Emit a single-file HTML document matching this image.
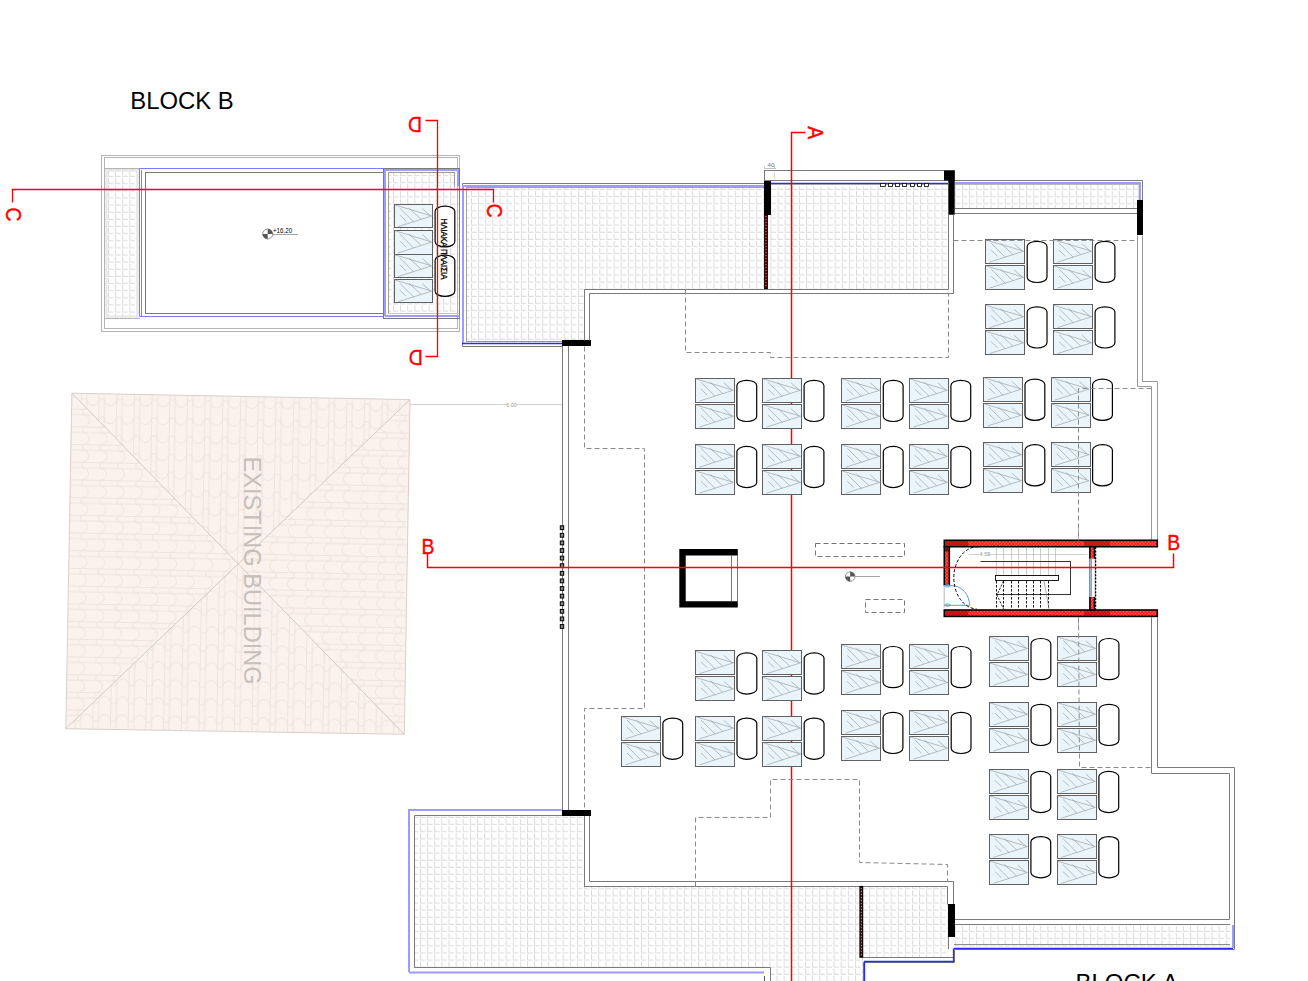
<!DOCTYPE html>
<html><head><meta charset="utf-8"><style>
html,body{margin:0;padding:0;background:#fff;}
svg{display:block;}
text{font-family:"Liberation Sans",sans-serif;}
</style></head><body>
<svg width="1308" height="981" viewBox="0 0 1308 981">
<defs>
<pattern id="tile" patternUnits="userSpaceOnUse" width="7.13" height="7.13" x="471" y="190">
<rect x="0" y="1" width="1" height="5" fill="#d8d8d8"/><rect x="0" y="6" width="5.5" height="1" fill="#d8d8d8"/>
</pattern>
<pattern id="tileB1" patternUnits="userSpaceOnUse" width="7.13" height="7.13" x="108" y="170">
<rect x="0" y="1" width="1" height="5" fill="#d8d8d8"/><rect x="0" y="6" width="5.5" height="1" fill="#d8d8d8"/>
</pattern>
<pattern id="tileB2" patternUnits="userSpaceOnUse" width="7.13" height="7.13" x="393" y="169">
<rect x="0" y="1" width="1" height="5" fill="#d8d8d8"/><rect x="0" y="6" width="5.5" height="1" fill="#d8d8d8"/>
</pattern>
<pattern id="tileS" patternUnits="userSpaceOnUse" width="7.13" height="7.13" x="962" y="183">
<rect x="0" y="1" width="1" height="5" fill="#d8d8d8"/><rect x="0" y="6" width="5.5" height="1" fill="#d8d8d8"/>
</pattern>
<pattern id="tileL" patternUnits="userSpaceOnUse" width="7.13" height="7.13" x="420" y="818">
<rect x="0" y="1" width="1" height="5" fill="#d8d8d8"/><rect x="0" y="6" width="5.5" height="1" fill="#d8d8d8"/>
</pattern>
<pattern id="roofV" patternUnits="userSpaceOnUse" width="17.7" height="18" patternTransform="rotate(1.1)">
<path d="M0.5,0 V18 M6,0 V18 M0.5,1 H6 M6,2 A5.85,5.5 0 0 0 17.7,2" stroke="#e8ddd6" stroke-width="0.7" fill="none"/>
</pattern>
<pattern id="roofVu" patternUnits="userSpaceOnUse" width="17.7" height="18" patternTransform="rotate(1.1)">
<path d="M0.5,0 V18 M6,0 V18 M0.5,17 H6 M6,16 A5.85,5.5 0 0 1 17.7,16" stroke="#e8ddd6" stroke-width="0.7" fill="none"/>
</pattern>
<pattern id="roofH" patternUnits="userSpaceOnUse" width="18" height="17.7" patternTransform="rotate(1.1)">
<path d="M0,0.5 H18 M0,6 H18 M1,0.5 V6 M2,6 A5.5,5.85 0 0 1 2,17.7" stroke="#e8ddd6" stroke-width="0.7" fill="none"/>
</pattern>
<pattern id="roofHl" patternUnits="userSpaceOnUse" width="18" height="17.7" patternTransform="rotate(1.1)">
<path d="M0,0.5 H18 M0,6 H18 M17,0.5 V6 M16,6 A5.5,5.85 0 0 0 16,17.7" stroke="#e8ddd6" stroke-width="0.7" fill="none"/>
</pattern>
<pattern id="hatch" patternUnits="userSpaceOnUse" width="2.4" height="2.4" patternTransform="rotate(45)">
<rect width="2.4" height="2.4" fill="#ff1a1a"/>
<rect x="0.2" y="0.2" width="0.9" height="0.9" fill="#ffd0d0"/>
</pattern>
</defs>
<rect x="105" y="169" width="34" height="149" stroke="none" stroke-width="1" fill="url(#tileB1)" />
<rect x="389" y="173" width="70" height="140" stroke="none" stroke-width="1" fill="url(#tileB2)" />
<path d="M466.5,186.5 H948 V289.5 H584 V343 H466.5 Z" fill="url(#tile)"/>
<rect x="955" y="185" width="183" height="23" stroke="none" stroke-width="1" fill="url(#tileS)" />
<path d="M414,816 H584 V886.5 H948 V957 H863 V981 H771 V968 H414 Z" fill="url(#tileL)"/>
<rect x="954" y="925" width="276" height="22" stroke="none" stroke-width="1" fill="url(#tileL)" />
<polygon points="71.9,393.2 410,399.6 404.3,734.3 65.8,728.7" fill="#fbf2ed" stroke="#d9cfc9" stroke-width="1"/>
<polygon points="71.9,393.2 410,399.6 238.21,563.86" fill="url(#roofV)"/>
<polygon points="65.8,728.7 404.3,734.3 238.21,563.86" fill="url(#roofVu)"/>
<polygon points="71.9,393.2 65.8,728.7 238.21,563.86" fill="url(#roofH)"/>
<polygon points="410,399.6 404.3,734.3 238.21,563.86" fill="url(#roofHl)"/>
<line x1="71.9" y1="393.2" x2="404.3" y2="734.3" stroke="#c9c0ba" stroke-width="0.8" />
<line x1="410" y1="399.6" x2="65.8" y2="728.7" stroke="#c9c0ba" stroke-width="0.8" />
<text x="0" y="0" transform="translate(244.3,456.6) rotate(90)" font-size="24" fill="#c6bfba" textLength="228" lengthAdjust="spacingAndGlyphs">EXISTING BUILDING</text>
<line x1="410" y1="404.5" x2="563" y2="404.5" stroke="#c8c8c8" stroke-width="0.8" />
<rect x="506" y="401" width="11" height="6" stroke="none" stroke-width="1" fill="#fff" />
<text x="511.5" y="406.5" font-size="5.5" fill="#999" text-anchor="middle">6.00</text>
<rect x="101.5" y="155.5" width="358.0" height="176.0" stroke="#b4b4b4" stroke-width="1" fill="none" />
<rect x="104.5" y="157.5" width="353.0" height="171.0" stroke="#b4b4b4" stroke-width="1" fill="none" />
<line x1="104" y1="168.5" x2="140" y2="168.5" stroke="#b4b4b4" stroke-width="1" />
<line x1="104" y1="318.5" x2="140" y2="318.5" stroke="#b4b4b4" stroke-width="1" />
<rect x="106.5" y="170.5" width="31" height="146" stroke="#e6e6e6" stroke-width="2" fill="none" />
<polyline points="383.5,168.5 139.5,168.5 139.5,316.5 383.5,316.5" stroke="#7b7bff" stroke-width="1" fill="none" />
<line x1="141.5" y1="170" x2="141.5" y2="316" stroke="#7b7bff" stroke-width="1" />
<rect x="145.5" y="172.5" width="238.0" height="141.0" stroke="#7a7a7a" stroke-width="1" fill="none" />
<rect x="383.5" y="168.5" width="76.0" height="150.0" stroke="#7a7a7a" stroke-width="1" fill="none" />
<polyline points="385,316 385,170 458,170 458,186.3" stroke="#9c9cff" stroke-width="2" fill="none" />
<line x1="385" y1="316" x2="459.5" y2="316" stroke="#9c9cff" stroke-width="2" />
<polyline points="454.5,187.5 454.5,172.5 388.5,172.5 388.5,313.5 459.5,313.5" stroke="#909090" stroke-width="0.9" fill="none" />
<line x1="388" y1="313.5" x2="459" y2="313.5" stroke="#c4c4c4" stroke-width="1" />
<polyline points="764.5,183.5 462.5,183.5 462.5,346.5 562.5,346.5" stroke="#7a7a7a" stroke-width="1" fill="none" />
<polyline points="764,186 463,186 463,342.5" stroke="#9c9cff" stroke-width="2" fill="none" />
<line x1="462" y1="343.5" x2="562" y2="343.5" stroke="#2828ff" stroke-width="1.3" />
<line x1="467" y1="341.5" x2="562" y2="341.5" stroke="#8a8a8a" stroke-width="0.9" />
<polyline points="764.5,187.5 466.5,187.5 466.5,343.5" stroke="#8a8a8a" stroke-width="0.8" fill="none" />
<rect x="764.5" y="170.5" width="190.0" height="10.0" stroke="#7a7a7a" stroke-width="1" fill="none" />
<line x1="770" y1="183.5" x2="948" y2="183.5" stroke="#2828ff" stroke-width="1.3" />
<line x1="770" y1="184.5" x2="948" y2="184.5" stroke="#888" stroke-width="0.6" />
<polyline points="954.5,180.5 1142.5,180.5 1142.5,200.5" stroke="#7a7a7a" stroke-width="1" fill="none" />
<polyline points="954.7,183 1140,183 1140,200" stroke="#9c9cff" stroke-width="2" fill="none" />
<line x1="955" y1="184.5" x2="1139" y2="184.5" stroke="#8a8a8a" stroke-width="0.6" />
<line x1="1138.5" y1="185" x2="1138.5" y2="208" stroke="#cfcfcf" stroke-width="0.8" />
<line x1="955" y1="208.5" x2="1137" y2="208.5" stroke="#7a7a7a" stroke-width="1" />
<line x1="955" y1="213.5" x2="1137" y2="213.5" stroke="#7a7a7a" stroke-width="1" />
<rect x="764" y="181" width="7" height="34" stroke="none" stroke-width="1" fill="#000" />
<rect x="764.8" y="214.8" width="2.4" height="74.2" fill="#d00000" stroke="#000" stroke-width="1.4"/>
<line x1="766" y1="216" x2="766" y2="288" stroke="#fff" stroke-width="0.7" stroke-dasharray="0.8,2.2"/>
<path d="M944,170.5 H954.7 V214.8 H948.3 V180.6 H944 Z" fill="#000"/>
<rect x="1137" y="200" width="6" height="35" stroke="none" stroke-width="1" fill="#000" />
<rect x="562" y="340" width="29" height="6" stroke="none" stroke-width="1" fill="#000" />
<rect x="880.5" y="183.5" width="5.0" height="3.0" stroke="#000" stroke-width="0.8" fill="#fff" />
<rect x="888.5" y="183.5" width="4.0" height="3.0" stroke="#000" stroke-width="0.8" fill="#fff" />
<rect x="895.5" y="183.5" width="4.0" height="3.0" stroke="#000" stroke-width="0.8" fill="#fff" />
<rect x="902.5" y="183.5" width="4.0" height="3.0" stroke="#000" stroke-width="0.8" fill="#fff" />
<rect x="910.5" y="183.5" width="4.0" height="3.0" stroke="#000" stroke-width="0.8" fill="#fff" />
<rect x="917.5" y="183.5" width="4.0" height="3.0" stroke="#000" stroke-width="0.8" fill="#fff" />
<rect x="924.5" y="183.5" width="4.0" height="3.0" stroke="#000" stroke-width="0.8" fill="#fff" />
<line x1="562.5" y1="346" x2="562.5" y2="810" stroke="#7a7a7a" stroke-width="1" />
<line x1="568.5" y1="346" x2="568.5" y2="810" stroke="#7a7a7a" stroke-width="1" />
<polyline points="584.5,340.5 584.5,289.5 948.5,289.5 948.5,214.5" stroke="#7a7a7a" stroke-width="1" fill="none" />
<polyline points="589.5,340.5 589.5,293.5 953.5,293.5 953.5,214.5" stroke="#7a7a7a" stroke-width="1" fill="none" />
<line x1="584.5" y1="816" x2="584.5" y2="887" stroke="#7a7a7a" stroke-width="1" />
<line x1="589.5" y1="816" x2="589.5" y2="881" stroke="#7a7a7a" stroke-width="1" />
<polyline points="1137.5,235.5 1137.5,386.5 1151.5,386.5 1151.5,540.5" stroke="#999" stroke-width="1" fill="none" />
<polyline points="1142.5,235.5 1142.5,381.5 1157.5,381.5 1157.5,540.5" stroke="#999" stroke-width="1" fill="none" />
<polyline points="1151.5,617.5 1151.5,773.5 1229.5,773.5 1229.5,919.5 954.5,919.5" stroke="#7a7a7a" stroke-width="1" fill="none" />
<polyline points="1157.5,617.5 1157.5,767.5 1234.5,767.5 1234.5,949.5 954.5,949.5 954.5,962.5 863.5,962.5 863.5,981.5" stroke="#7a7a7a" stroke-width="1" fill="none" />
<line x1="954" y1="924.5" x2="1230" y2="924.5" stroke="#7a7a7a" stroke-width="1" />
<line x1="954" y1="948.5" x2="1233" y2="948.5" stroke="#2828ff" stroke-width="1.3" />
<line x1="1233" y1="925" x2="1233" y2="948" stroke="#9c9cff" stroke-width="2" />
<line x1="954" y1="944.5" x2="1230" y2="944.5" stroke="#808080" stroke-width="0.9" />
<polyline points="864.5,981.5 864.5,961.5 953.5,961.5 953.5,948.5" stroke="#2828ff" stroke-width="1.3" fill="none" />
<polyline points="589.5,881.5 953.5,881.5 953.5,904.5" stroke="#7a7a7a" stroke-width="1" fill="none" />
<polyline points="584.5,886.5 947.5,886.5 947.5,904.5" stroke="#7a7a7a" stroke-width="1" fill="none" />
<rect x="948" y="904" width="7" height="33" stroke="none" stroke-width="1" fill="#000" />
<line x1="948.5" y1="937" x2="948.5" y2="949" stroke="#7a7a7a" stroke-width="1" />
<rect x="860.1" y="886.6" width="2.4" height="70.5" fill="#d00000" stroke="#000" stroke-width="1.4"/>
<line x1="861.3" y1="888" x2="861.3" y2="956" stroke="#fff" stroke-width="0.7" stroke-dasharray="0.8,2.2"/>
<line x1="863" y1="957.5" x2="953" y2="957.5" stroke="#7a7a7a" stroke-width="1" />
<polyline points="561.7,810 409,810 409,972" stroke="#9c9cff" stroke-width="2" fill="none" />
<line x1="409" y1="972.5" x2="764" y2="972.5" stroke="#9c9cff" stroke-width="2" />
<line x1="764.5" y1="976" x2="764.5" y2="981" stroke="#555" stroke-width="1" />
<polyline points="562.5,815.5 414.5,815.5 414.5,967.5 770.5,967.5 770.5,981.5" stroke="#7a7a7a" stroke-width="1" fill="none" />
<rect x="562" y="810" width="29" height="6" stroke="none" stroke-width="1" fill="#000" />
<rect x="560.3" y="525.80" width="3.4" height="3.8" stroke="#000" stroke-width="1" fill="#888"/>
<rect x="560.3" y="533.40" width="3.4" height="3.8" stroke="#000" stroke-width="1" fill="#888"/>
<rect x="560.3" y="541.00" width="3.4" height="3.8" stroke="#000" stroke-width="1" fill="#888"/>
<rect x="560.3" y="548.60" width="3.4" height="3.8" stroke="#000" stroke-width="1" fill="#888"/>
<rect x="560.3" y="556.20" width="3.4" height="3.8" stroke="#000" stroke-width="1" fill="#888"/>
<rect x="560.3" y="563.80" width="3.4" height="3.8" stroke="#000" stroke-width="1" fill="#888"/>
<rect x="560.3" y="571.40" width="3.4" height="3.8" stroke="#000" stroke-width="1" fill="#888"/>
<rect x="560.3" y="579.00" width="3.4" height="3.8" stroke="#000" stroke-width="1" fill="#888"/>
<rect x="560.3" y="586.60" width="3.4" height="3.8" stroke="#000" stroke-width="1" fill="#888"/>
<rect x="560.3" y="594.20" width="3.4" height="3.8" stroke="#000" stroke-width="1" fill="#888"/>
<rect x="560.3" y="601.80" width="3.4" height="3.8" stroke="#000" stroke-width="1" fill="#888"/>
<rect x="560.3" y="609.40" width="3.4" height="3.8" stroke="#000" stroke-width="1" fill="#888"/>
<rect x="560.3" y="617.00" width="3.4" height="3.8" stroke="#000" stroke-width="1" fill="#888"/>
<rect x="560.3" y="624.60" width="3.4" height="3.8" stroke="#000" stroke-width="1" fill="#888"/>
<path d="M679.3,549 H737.8 V555.4 H685.7 V601.2 H737.8 V607.6 H679.3 Z" fill="#000"/>
<line x1="731.5" y1="555" x2="731.5" y2="601" stroke="#555" stroke-width="0.8" />
<line x1="737.5" y1="555" x2="737.5" y2="601" stroke="#555" stroke-width="0.8" />
<circle cx="850.2" cy="576.6" r="4.8" fill="#fff" stroke="#666" stroke-width="0.7"/>
<path d="M850.2,576.6 V571.8000000000001 A4.8,4.8 0 0 1 855.0,576.6 Z" fill="#555"/>
<path d="M850.2,576.6 H845.4000000000001 A4.8,4.8 0 0 0 850.2,581.4 Z" fill="#555"/>
<line x1="855" y1="576.5" x2="880" y2="576.5" stroke="#9a9a9a" stroke-width="0.9" />
<circle cx="267.7" cy="234" r="5" fill="#fff" stroke="#666" stroke-width="0.7"/>
<path d="M267.7,234 V229 A5,5 0 0 1 272.7,234 Z" fill="#555"/>
<path d="M267.7,234 H262.7 A5,5 0 0 0 267.7,239 Z" fill="#555"/>
<line x1="273" y1="234.5" x2="298" y2="234.5" stroke="#9a9a9a" stroke-width="0.9" />
<text x="0" y="0" transform="translate(273.0,232.9) scale(0.85,1)" font-size="7.3" fill="#000">+16.20</text>
<rect x="944.3" y="540.3" width="213" height="6.4" stroke="#000" stroke-width="1.6" fill="url(#hatch)"/>
<rect x="944.3" y="610" width="213" height="6.4" stroke="#000" stroke-width="1.6" fill="url(#hatch)"/>
<rect x="944.3" y="546.7" width="5" height="38.7" stroke="#000" stroke-width="1.6" fill="url(#hatch)"/>
<rect x="1089.9" y="546.7" width="4.6" height="63.3" stroke="#000" stroke-width="1.6" fill="url(#hatch)"/>
<rect x="945.1" y="541.1" width="23" height="4.8" fill="#900000" opacity="0.55"/>
<rect x="945.1" y="610.8" width="23" height="4.8" fill="#900000" opacity="0.55"/>
<rect x="1084" y="541.1" width="26" height="4.8" fill="#900000" opacity="0.5"/>
<rect x="1084" y="610.8" width="26" height="4.8" fill="#900000" opacity="0.5"/>
<rect x="945.1" y="547.5" width="3.4" height="4" fill="#000" opacity="0.6"/>
<rect x="1089.5" y="558.7" width="5.4" height="38.2" fill="#fff"/>
<line x1="1091.2" y1="559" x2="1091.2" y2="596.5" stroke="#6aa8e8" stroke-width="1.6" />
<line x1="1089.9" y1="558.7" x2="1089.9" y2="597" stroke="#888" stroke-width="0.6" />
<line x1="1095.6" y1="547" x2="1095.6" y2="609.5" stroke="#000" stroke-width="1.3" stroke-dasharray="2,1.4"/>
<rect x="943.3" y="585.3" width="7" height="22" fill="#fff"/>
<line x1="944.2" y1="585.4" x2="944.2" y2="607.4" stroke="#999" stroke-width="0.7" />
<path d="M944.5,585.6 H952 A18,20 0 0 1 969.6,605.3 H944.5" fill="none" stroke="#5a9de0" stroke-width="1"/>
<ellipse cx="947.5" cy="585.8" rx="2.6" ry="1.2" fill="none" stroke="#5a9de0" stroke-width="0.9"/>
<ellipse cx="947.5" cy="605.1" rx="2.6" ry="1.2" fill="none" stroke="#5a9de0" stroke-width="0.9"/>
<path d="M978.3,546.8 A23.6,31 0 0 0 976.7,609" fill="none" stroke="#000" stroke-width="1" stroke-dasharray="3,2"/>
<line x1="996.5" y1="547" x2="996.5" y2="576" stroke="#aaa" stroke-width="0.6" />
<line x1="1003.5" y1="547" x2="1003.5" y2="576" stroke="#aaa" stroke-width="0.6" />
<line x1="1011.5" y1="547" x2="1011.5" y2="576" stroke="#aaa" stroke-width="0.6" />
<line x1="1018.5" y1="547" x2="1018.5" y2="576" stroke="#aaa" stroke-width="0.6" />
<line x1="1026.5" y1="547" x2="1026.5" y2="576" stroke="#aaa" stroke-width="0.6" />
<line x1="1033.5" y1="547" x2="1033.5" y2="576" stroke="#aaa" stroke-width="0.6" />
<line x1="1040.5" y1="547" x2="1040.5" y2="576" stroke="#aaa" stroke-width="0.6" />
<line x1="1048.5" y1="547" x2="1048.5" y2="576" stroke="#aaa" stroke-width="0.6" />
<line x1="1055.5" y1="547" x2="1055.5" y2="576" stroke="#aaa" stroke-width="0.6" />
<line x1="996.5" y1="581" x2="996.5" y2="609" stroke="#000" stroke-width="0.9" stroke-dasharray="2.5,1.5"/>
<line x1="1003.5" y1="581" x2="1003.5" y2="609" stroke="#000" stroke-width="0.9" stroke-dasharray="2.5,1.5"/>
<line x1="1011.5" y1="581" x2="1011.5" y2="609" stroke="#000" stroke-width="0.9" stroke-dasharray="2.5,1.5"/>
<line x1="1018.5" y1="581" x2="1018.5" y2="609" stroke="#000" stroke-width="0.9" stroke-dasharray="2.5,1.5"/>
<line x1="1026.5" y1="581" x2="1026.5" y2="609" stroke="#000" stroke-width="0.9" stroke-dasharray="2.5,1.5"/>
<line x1="1033.5" y1="581" x2="1033.5" y2="609" stroke="#000" stroke-width="0.9" stroke-dasharray="2.5,1.5"/>
<line x1="1040.5" y1="581" x2="1040.5" y2="609" stroke="#000" stroke-width="0.9" stroke-dasharray="2.5,1.5"/>
<line x1="1048.5" y1="581" x2="1048.5" y2="609" stroke="#000" stroke-width="0.9" stroke-dasharray="2.5,1.5"/>
<path d="M1003.5,581 L997,595 L1003.5,609" fill="none" stroke="#000" stroke-width="0.8" stroke-dasharray="2.5,1.2"/>
<line x1="996" y1="594.5" x2="1071" y2="594.5" stroke="#000" stroke-width="0.8" />
<rect x="995.5" y="575.5" width="63.0" height="5.0" stroke="#000" stroke-width="0.9" fill="#fff" />
<polyline points="980.5,561.5 1070.5,561.5 1070.5,594.5" stroke="#000" stroke-width="0.8" fill="none" />
<line x1="1044" y1="580.6" x2="1049" y2="609" stroke="#777" stroke-width="0.6" />
<line x1="969" y1="554.5" x2="979" y2="554.5" stroke="#b0b0b0" stroke-width="0.6" />
<line x1="988" y1="554.5" x2="1087" y2="554.5" stroke="#b0b0b0" stroke-width="0.6" />
<text x="979.5" y="556.4" font-size="5.6" fill="#999">4.55</text>
<line x1="1078.5" y1="528" x2="1078.5" y2="540" stroke="#888" stroke-width="0.6" />
<line x1="1078.5" y1="617" x2="1078.5" y2="628" stroke="#888" stroke-width="0.6" />
<polyline points="805.5,132.5 791.5,132.5 791.5,981.5" stroke="#ff0000" stroke-width="1.5" fill="none" />
<rect x="695.5" y="378.5" width="39.0" height="24.0" stroke="#606060" stroke-width="1" fill="#eaf5fb" />
<line x1="699.31" y1="401.1" x2="733.4" y2="390.2" stroke="#8e9498" stroke-width="0.6" />
<line x1="695.8" y1="378.9" x2="733.4" y2="390.2" stroke="#8e9498" stroke-width="0.6" />
<line x1="700.91" y1="389.2" x2="707.33" y2="395.3" stroke="#8e9498" stroke-width="0.6" />
<line x1="700.91" y1="382.2" x2="715.05" y2="396.3" stroke="#8e9498" stroke-width="0.6" />
<line x1="710.24" y1="382.2" x2="722.47" y2="393.4" stroke="#8e9498" stroke-width="0.6" />
<line x1="723.77" y1="382.8" x2="731.49" y2="389.5" stroke="#8e9498" stroke-width="0.6" />
<rect x="695.5" y="404.5" width="39.0" height="24.0" stroke="#606060" stroke-width="1" fill="#eaf5fb" />
<line x1="699.31" y1="427.1" x2="733.4" y2="416.2" stroke="#8e9498" stroke-width="0.6" />
<line x1="695.8" y1="404.9" x2="733.4" y2="416.2" stroke="#8e9498" stroke-width="0.6" />
<line x1="700.91" y1="415.2" x2="707.33" y2="421.3" stroke="#8e9498" stroke-width="0.6" />
<line x1="700.91" y1="408.2" x2="715.05" y2="422.3" stroke="#8e9498" stroke-width="0.6" />
<line x1="710.24" y1="408.2" x2="722.47" y2="419.4" stroke="#8e9498" stroke-width="0.6" />
<line x1="723.77" y1="408.8" x2="731.49" y2="415.5" stroke="#8e9498" stroke-width="0.6" />
<path d="M736.90,385.50 A9.90,5.2 0 0 1 756.70,385.50 V416.30 A9.90,5.2 0 0 1 736.90,416.30 Z" fill="#fff" stroke="#000" stroke-width="1.2"/>
<rect x="762.5" y="378.5" width="39.0" height="24.0" stroke="#606060" stroke-width="1" fill="#eaf5fb" />
<line x1="766.51" y1="401.1" x2="800.6" y2="390.2" stroke="#8e9498" stroke-width="0.6" />
<line x1="763.0" y1="378.9" x2="800.6" y2="390.2" stroke="#8e9498" stroke-width="0.6" />
<line x1="768.11" y1="389.2" x2="774.53" y2="395.3" stroke="#8e9498" stroke-width="0.6" />
<line x1="768.11" y1="382.2" x2="782.25" y2="396.3" stroke="#8e9498" stroke-width="0.6" />
<line x1="777.44" y1="382.2" x2="789.67" y2="393.4" stroke="#8e9498" stroke-width="0.6" />
<line x1="790.97" y1="382.8" x2="798.69" y2="389.5" stroke="#8e9498" stroke-width="0.6" />
<rect x="762.5" y="404.5" width="39.0" height="24.0" stroke="#606060" stroke-width="1" fill="#eaf5fb" />
<line x1="766.51" y1="427.1" x2="800.6" y2="416.2" stroke="#8e9498" stroke-width="0.6" />
<line x1="763.0" y1="404.9" x2="800.6" y2="416.2" stroke="#8e9498" stroke-width="0.6" />
<line x1="768.11" y1="415.2" x2="774.53" y2="421.3" stroke="#8e9498" stroke-width="0.6" />
<line x1="768.11" y1="408.2" x2="782.25" y2="422.3" stroke="#8e9498" stroke-width="0.6" />
<line x1="777.44" y1="408.2" x2="789.67" y2="419.4" stroke="#8e9498" stroke-width="0.6" />
<line x1="790.97" y1="408.8" x2="798.69" y2="415.5" stroke="#8e9498" stroke-width="0.6" />
<path d="M804.10,385.50 A9.90,5.2 0 0 1 823.90,385.50 V416.30 A9.90,5.2 0 0 1 804.10,416.30 Z" fill="#fff" stroke="#000" stroke-width="1.2"/>
<rect x="841.5" y="378.5" width="39.0" height="24.0" stroke="#606060" stroke-width="1" fill="#eaf5fb" />
<line x1="845.71" y1="401.1" x2="879.8" y2="390.2" stroke="#8e9498" stroke-width="0.6" />
<line x1="842.2" y1="378.9" x2="879.8" y2="390.2" stroke="#8e9498" stroke-width="0.6" />
<line x1="847.31" y1="389.2" x2="853.73" y2="395.3" stroke="#8e9498" stroke-width="0.6" />
<line x1="847.31" y1="382.2" x2="861.45" y2="396.3" stroke="#8e9498" stroke-width="0.6" />
<line x1="856.64" y1="382.2" x2="868.87" y2="393.4" stroke="#8e9498" stroke-width="0.6" />
<line x1="870.17" y1="382.8" x2="877.89" y2="389.5" stroke="#8e9498" stroke-width="0.6" />
<rect x="841.5" y="404.5" width="39.0" height="24.0" stroke="#606060" stroke-width="1" fill="#eaf5fb" />
<line x1="845.71" y1="427.1" x2="879.8" y2="416.2" stroke="#8e9498" stroke-width="0.6" />
<line x1="842.2" y1="404.9" x2="879.8" y2="416.2" stroke="#8e9498" stroke-width="0.6" />
<line x1="847.31" y1="415.2" x2="853.73" y2="421.3" stroke="#8e9498" stroke-width="0.6" />
<line x1="847.31" y1="408.2" x2="861.45" y2="422.3" stroke="#8e9498" stroke-width="0.6" />
<line x1="856.64" y1="408.2" x2="868.87" y2="419.4" stroke="#8e9498" stroke-width="0.6" />
<line x1="870.17" y1="408.8" x2="877.89" y2="415.5" stroke="#8e9498" stroke-width="0.6" />
<path d="M883.30,385.50 A9.90,5.2 0 0 1 903.10,385.50 V416.30 A9.90,5.2 0 0 1 883.30,416.30 Z" fill="#fff" stroke="#000" stroke-width="1.2"/>
<rect x="909.5" y="378.5" width="39.0" height="24.0" stroke="#606060" stroke-width="1" fill="#eaf5fb" />
<line x1="913.31" y1="401.1" x2="947.4" y2="390.2" stroke="#8e9498" stroke-width="0.6" />
<line x1="909.8" y1="378.9" x2="947.4" y2="390.2" stroke="#8e9498" stroke-width="0.6" />
<line x1="914.91" y1="389.2" x2="921.33" y2="395.3" stroke="#8e9498" stroke-width="0.6" />
<line x1="914.91" y1="382.2" x2="929.05" y2="396.3" stroke="#8e9498" stroke-width="0.6" />
<line x1="924.24" y1="382.2" x2="936.47" y2="393.4" stroke="#8e9498" stroke-width="0.6" />
<line x1="937.77" y1="382.8" x2="945.49" y2="389.5" stroke="#8e9498" stroke-width="0.6" />
<rect x="909.5" y="404.5" width="39.0" height="24.0" stroke="#606060" stroke-width="1" fill="#eaf5fb" />
<line x1="913.31" y1="427.1" x2="947.4" y2="416.2" stroke="#8e9498" stroke-width="0.6" />
<line x1="909.8" y1="404.9" x2="947.4" y2="416.2" stroke="#8e9498" stroke-width="0.6" />
<line x1="914.91" y1="415.2" x2="921.33" y2="421.3" stroke="#8e9498" stroke-width="0.6" />
<line x1="914.91" y1="408.2" x2="929.05" y2="422.3" stroke="#8e9498" stroke-width="0.6" />
<line x1="924.24" y1="408.2" x2="936.47" y2="419.4" stroke="#8e9498" stroke-width="0.6" />
<line x1="937.77" y1="408.8" x2="945.49" y2="415.5" stroke="#8e9498" stroke-width="0.6" />
<path d="M950.90,385.50 A9.90,5.2 0 0 1 970.70,385.50 V416.30 A9.90,5.2 0 0 1 950.90,416.30 Z" fill="#fff" stroke="#000" stroke-width="1.2"/>
<rect x="695.5" y="444.5" width="39.0" height="24.0" stroke="#606060" stroke-width="1" fill="#eaf5fb" />
<line x1="699.31" y1="467.2" x2="733.4" y2="456.3" stroke="#8e9498" stroke-width="0.6" />
<line x1="695.8" y1="445.0" x2="733.4" y2="456.3" stroke="#8e9498" stroke-width="0.6" />
<line x1="700.91" y1="455.3" x2="707.33" y2="461.4" stroke="#8e9498" stroke-width="0.6" />
<line x1="700.91" y1="448.3" x2="715.05" y2="462.4" stroke="#8e9498" stroke-width="0.6" />
<line x1="710.24" y1="448.3" x2="722.47" y2="459.5" stroke="#8e9498" stroke-width="0.6" />
<line x1="723.77" y1="448.9" x2="731.49" y2="455.6" stroke="#8e9498" stroke-width="0.6" />
<rect x="695.5" y="470.5" width="39.0" height="24.0" stroke="#606060" stroke-width="1" fill="#eaf5fb" />
<line x1="699.31" y1="493.2" x2="733.4" y2="482.3" stroke="#8e9498" stroke-width="0.6" />
<line x1="695.8" y1="471.0" x2="733.4" y2="482.3" stroke="#8e9498" stroke-width="0.6" />
<line x1="700.91" y1="481.3" x2="707.33" y2="487.4" stroke="#8e9498" stroke-width="0.6" />
<line x1="700.91" y1="474.3" x2="715.05" y2="488.4" stroke="#8e9498" stroke-width="0.6" />
<line x1="710.24" y1="474.3" x2="722.47" y2="485.5" stroke="#8e9498" stroke-width="0.6" />
<line x1="723.77" y1="474.9" x2="731.49" y2="481.6" stroke="#8e9498" stroke-width="0.6" />
<path d="M736.90,451.60 A9.90,5.2 0 0 1 756.70,451.60 V482.40 A9.90,5.2 0 0 1 736.90,482.40 Z" fill="#fff" stroke="#000" stroke-width="1.2"/>
<rect x="762.5" y="444.5" width="39.0" height="24.0" stroke="#606060" stroke-width="1" fill="#eaf5fb" />
<line x1="766.51" y1="467.2" x2="800.6" y2="456.3" stroke="#8e9498" stroke-width="0.6" />
<line x1="763.0" y1="445.0" x2="800.6" y2="456.3" stroke="#8e9498" stroke-width="0.6" />
<line x1="768.11" y1="455.3" x2="774.53" y2="461.4" stroke="#8e9498" stroke-width="0.6" />
<line x1="768.11" y1="448.3" x2="782.25" y2="462.4" stroke="#8e9498" stroke-width="0.6" />
<line x1="777.44" y1="448.3" x2="789.67" y2="459.5" stroke="#8e9498" stroke-width="0.6" />
<line x1="790.97" y1="448.9" x2="798.69" y2="455.6" stroke="#8e9498" stroke-width="0.6" />
<rect x="762.5" y="470.5" width="39.0" height="24.0" stroke="#606060" stroke-width="1" fill="#eaf5fb" />
<line x1="766.51" y1="493.2" x2="800.6" y2="482.3" stroke="#8e9498" stroke-width="0.6" />
<line x1="763.0" y1="471.0" x2="800.6" y2="482.3" stroke="#8e9498" stroke-width="0.6" />
<line x1="768.11" y1="481.3" x2="774.53" y2="487.4" stroke="#8e9498" stroke-width="0.6" />
<line x1="768.11" y1="474.3" x2="782.25" y2="488.4" stroke="#8e9498" stroke-width="0.6" />
<line x1="777.44" y1="474.3" x2="789.67" y2="485.5" stroke="#8e9498" stroke-width="0.6" />
<line x1="790.97" y1="474.9" x2="798.69" y2="481.6" stroke="#8e9498" stroke-width="0.6" />
<path d="M804.10,451.60 A9.90,5.2 0 0 1 823.90,451.60 V482.40 A9.90,5.2 0 0 1 804.10,482.40 Z" fill="#fff" stroke="#000" stroke-width="1.2"/>
<rect x="841.5" y="444.5" width="39.0" height="24.0" stroke="#606060" stroke-width="1" fill="#eaf5fb" />
<line x1="845.71" y1="467.2" x2="879.8" y2="456.3" stroke="#8e9498" stroke-width="0.6" />
<line x1="842.2" y1="445.0" x2="879.8" y2="456.3" stroke="#8e9498" stroke-width="0.6" />
<line x1="847.31" y1="455.3" x2="853.73" y2="461.4" stroke="#8e9498" stroke-width="0.6" />
<line x1="847.31" y1="448.3" x2="861.45" y2="462.4" stroke="#8e9498" stroke-width="0.6" />
<line x1="856.64" y1="448.3" x2="868.87" y2="459.5" stroke="#8e9498" stroke-width="0.6" />
<line x1="870.17" y1="448.9" x2="877.89" y2="455.6" stroke="#8e9498" stroke-width="0.6" />
<rect x="841.5" y="470.5" width="39.0" height="24.0" stroke="#606060" stroke-width="1" fill="#eaf5fb" />
<line x1="845.71" y1="493.2" x2="879.8" y2="482.3" stroke="#8e9498" stroke-width="0.6" />
<line x1="842.2" y1="471.0" x2="879.8" y2="482.3" stroke="#8e9498" stroke-width="0.6" />
<line x1="847.31" y1="481.3" x2="853.73" y2="487.4" stroke="#8e9498" stroke-width="0.6" />
<line x1="847.31" y1="474.3" x2="861.45" y2="488.4" stroke="#8e9498" stroke-width="0.6" />
<line x1="856.64" y1="474.3" x2="868.87" y2="485.5" stroke="#8e9498" stroke-width="0.6" />
<line x1="870.17" y1="474.9" x2="877.89" y2="481.6" stroke="#8e9498" stroke-width="0.6" />
<path d="M883.30,451.60 A9.90,5.2 0 0 1 903.10,451.60 V482.40 A9.90,5.2 0 0 1 883.30,482.40 Z" fill="#fff" stroke="#000" stroke-width="1.2"/>
<rect x="909.5" y="444.5" width="39.0" height="24.0" stroke="#606060" stroke-width="1" fill="#eaf5fb" />
<line x1="913.31" y1="467.2" x2="947.4" y2="456.3" stroke="#8e9498" stroke-width="0.6" />
<line x1="909.8" y1="445.0" x2="947.4" y2="456.3" stroke="#8e9498" stroke-width="0.6" />
<line x1="914.91" y1="455.3" x2="921.33" y2="461.4" stroke="#8e9498" stroke-width="0.6" />
<line x1="914.91" y1="448.3" x2="929.05" y2="462.4" stroke="#8e9498" stroke-width="0.6" />
<line x1="924.24" y1="448.3" x2="936.47" y2="459.5" stroke="#8e9498" stroke-width="0.6" />
<line x1="937.77" y1="448.9" x2="945.49" y2="455.6" stroke="#8e9498" stroke-width="0.6" />
<rect x="909.5" y="470.5" width="39.0" height="24.0" stroke="#606060" stroke-width="1" fill="#eaf5fb" />
<line x1="913.31" y1="493.2" x2="947.4" y2="482.3" stroke="#8e9498" stroke-width="0.6" />
<line x1="909.8" y1="471.0" x2="947.4" y2="482.3" stroke="#8e9498" stroke-width="0.6" />
<line x1="914.91" y1="481.3" x2="921.33" y2="487.4" stroke="#8e9498" stroke-width="0.6" />
<line x1="914.91" y1="474.3" x2="929.05" y2="488.4" stroke="#8e9498" stroke-width="0.6" />
<line x1="924.24" y1="474.3" x2="936.47" y2="485.5" stroke="#8e9498" stroke-width="0.6" />
<line x1="937.77" y1="474.9" x2="945.49" y2="481.6" stroke="#8e9498" stroke-width="0.6" />
<path d="M950.90,451.60 A9.90,5.2 0 0 1 970.70,451.60 V482.40 A9.90,5.2 0 0 1 950.90,482.40 Z" fill="#fff" stroke="#000" stroke-width="1.2"/>
<rect x="983.5" y="377.5" width="39.0" height="24.0" stroke="#606060" stroke-width="1" fill="#eaf5fb" />
<line x1="987.41" y1="400.0" x2="1021.5" y2="389.1" stroke="#8e9498" stroke-width="0.6" />
<line x1="983.9" y1="377.8" x2="1021.5" y2="389.1" stroke="#8e9498" stroke-width="0.6" />
<line x1="989.01" y1="388.1" x2="995.43" y2="394.2" stroke="#8e9498" stroke-width="0.6" />
<line x1="989.01" y1="381.1" x2="1003.15" y2="395.2" stroke="#8e9498" stroke-width="0.6" />
<line x1="998.34" y1="381.1" x2="1010.57" y2="392.3" stroke="#8e9498" stroke-width="0.6" />
<line x1="1011.87" y1="381.7" x2="1019.59" y2="388.4" stroke="#8e9498" stroke-width="0.6" />
<rect x="983.5" y="403.5" width="39.0" height="24.0" stroke="#606060" stroke-width="1" fill="#eaf5fb" />
<line x1="987.41" y1="426.0" x2="1021.5" y2="415.1" stroke="#8e9498" stroke-width="0.6" />
<line x1="983.9" y1="403.8" x2="1021.5" y2="415.1" stroke="#8e9498" stroke-width="0.6" />
<line x1="989.01" y1="414.1" x2="995.43" y2="420.2" stroke="#8e9498" stroke-width="0.6" />
<line x1="989.01" y1="407.1" x2="1003.15" y2="421.2" stroke="#8e9498" stroke-width="0.6" />
<line x1="998.34" y1="407.1" x2="1010.57" y2="418.3" stroke="#8e9498" stroke-width="0.6" />
<line x1="1011.87" y1="407.7" x2="1019.59" y2="414.4" stroke="#8e9498" stroke-width="0.6" />
<path d="M1025.00,384.40 A9.90,5.2 0 0 1 1044.80,384.40 V415.20 A9.90,5.2 0 0 1 1025.00,415.20 Z" fill="#fff" stroke="#000" stroke-width="1.2"/>
<rect x="1051.5" y="377.5" width="39.0" height="24.0" stroke="#606060" stroke-width="1" fill="#eaf5fb" />
<line x1="1055.01" y1="400.0" x2="1089.1" y2="389.1" stroke="#8e9498" stroke-width="0.6" />
<line x1="1051.5" y1="377.8" x2="1089.1" y2="389.1" stroke="#8e9498" stroke-width="0.6" />
<line x1="1056.61" y1="388.1" x2="1063.03" y2="394.2" stroke="#8e9498" stroke-width="0.6" />
<line x1="1056.61" y1="381.1" x2="1070.75" y2="395.2" stroke="#8e9498" stroke-width="0.6" />
<line x1="1065.94" y1="381.1" x2="1078.17" y2="392.3" stroke="#8e9498" stroke-width="0.6" />
<line x1="1079.47" y1="381.7" x2="1087.19" y2="388.4" stroke="#8e9498" stroke-width="0.6" />
<rect x="1051.5" y="403.5" width="39.0" height="24.0" stroke="#606060" stroke-width="1" fill="#eaf5fb" />
<line x1="1055.01" y1="426.0" x2="1089.1" y2="415.1" stroke="#8e9498" stroke-width="0.6" />
<line x1="1051.5" y1="403.8" x2="1089.1" y2="415.1" stroke="#8e9498" stroke-width="0.6" />
<line x1="1056.61" y1="414.1" x2="1063.03" y2="420.2" stroke="#8e9498" stroke-width="0.6" />
<line x1="1056.61" y1="407.1" x2="1070.75" y2="421.2" stroke="#8e9498" stroke-width="0.6" />
<line x1="1065.94" y1="407.1" x2="1078.17" y2="418.3" stroke="#8e9498" stroke-width="0.6" />
<line x1="1079.47" y1="407.7" x2="1087.19" y2="414.4" stroke="#8e9498" stroke-width="0.6" />
<path d="M1092.60,384.40 A9.90,5.2 0 0 1 1112.40,384.40 V415.20 A9.90,5.2 0 0 1 1092.60,415.20 Z" fill="#fff" stroke="#000" stroke-width="1.2"/>
<rect x="983.5" y="442.5" width="39.0" height="24.0" stroke="#606060" stroke-width="1" fill="#eaf5fb" />
<line x1="987.41" y1="465.5" x2="1021.5" y2="454.6" stroke="#8e9498" stroke-width="0.6" />
<line x1="983.9" y1="443.3" x2="1021.5" y2="454.6" stroke="#8e9498" stroke-width="0.6" />
<line x1="989.01" y1="453.6" x2="995.43" y2="459.7" stroke="#8e9498" stroke-width="0.6" />
<line x1="989.01" y1="446.6" x2="1003.15" y2="460.7" stroke="#8e9498" stroke-width="0.6" />
<line x1="998.34" y1="446.6" x2="1010.57" y2="457.8" stroke="#8e9498" stroke-width="0.6" />
<line x1="1011.87" y1="447.2" x2="1019.59" y2="453.9" stroke="#8e9498" stroke-width="0.6" />
<rect x="983.5" y="468.5" width="39.0" height="24.0" stroke="#606060" stroke-width="1" fill="#eaf5fb" />
<line x1="987.41" y1="491.5" x2="1021.5" y2="480.6" stroke="#8e9498" stroke-width="0.6" />
<line x1="983.9" y1="469.3" x2="1021.5" y2="480.6" stroke="#8e9498" stroke-width="0.6" />
<line x1="989.01" y1="479.6" x2="995.43" y2="485.7" stroke="#8e9498" stroke-width="0.6" />
<line x1="989.01" y1="472.6" x2="1003.15" y2="486.7" stroke="#8e9498" stroke-width="0.6" />
<line x1="998.34" y1="472.6" x2="1010.57" y2="483.8" stroke="#8e9498" stroke-width="0.6" />
<line x1="1011.87" y1="473.2" x2="1019.59" y2="479.9" stroke="#8e9498" stroke-width="0.6" />
<path d="M1025.00,449.90 A9.90,5.2 0 0 1 1044.80,449.90 V480.70 A9.90,5.2 0 0 1 1025.00,480.70 Z" fill="#fff" stroke="#000" stroke-width="1.2"/>
<rect x="1051.5" y="442.5" width="39.0" height="24.0" stroke="#606060" stroke-width="1" fill="#eaf5fb" />
<line x1="1055.01" y1="465.5" x2="1089.1" y2="454.6" stroke="#8e9498" stroke-width="0.6" />
<line x1="1051.5" y1="443.3" x2="1089.1" y2="454.6" stroke="#8e9498" stroke-width="0.6" />
<line x1="1056.61" y1="453.6" x2="1063.03" y2="459.7" stroke="#8e9498" stroke-width="0.6" />
<line x1="1056.61" y1="446.6" x2="1070.75" y2="460.7" stroke="#8e9498" stroke-width="0.6" />
<line x1="1065.94" y1="446.6" x2="1078.17" y2="457.8" stroke="#8e9498" stroke-width="0.6" />
<line x1="1079.47" y1="447.2" x2="1087.19" y2="453.9" stroke="#8e9498" stroke-width="0.6" />
<rect x="1051.5" y="468.5" width="39.0" height="24.0" stroke="#606060" stroke-width="1" fill="#eaf5fb" />
<line x1="1055.01" y1="491.5" x2="1089.1" y2="480.6" stroke="#8e9498" stroke-width="0.6" />
<line x1="1051.5" y1="469.3" x2="1089.1" y2="480.6" stroke="#8e9498" stroke-width="0.6" />
<line x1="1056.61" y1="479.6" x2="1063.03" y2="485.7" stroke="#8e9498" stroke-width="0.6" />
<line x1="1056.61" y1="472.6" x2="1070.75" y2="486.7" stroke="#8e9498" stroke-width="0.6" />
<line x1="1065.94" y1="472.6" x2="1078.17" y2="483.8" stroke="#8e9498" stroke-width="0.6" />
<line x1="1079.47" y1="473.2" x2="1087.19" y2="479.9" stroke="#8e9498" stroke-width="0.6" />
<path d="M1092.60,449.90 A9.90,5.2 0 0 1 1112.40,449.90 V480.70 A9.90,5.2 0 0 1 1092.60,480.70 Z" fill="#fff" stroke="#000" stroke-width="1.2"/>
<rect x="985.5" y="239.5" width="39.0" height="24.0" stroke="#606060" stroke-width="1" fill="#eaf5fb" />
<line x1="989.61" y1="262.1" x2="1023.7" y2="251.2" stroke="#8e9498" stroke-width="0.6" />
<line x1="986.1" y1="239.9" x2="1023.7" y2="251.2" stroke="#8e9498" stroke-width="0.6" />
<line x1="991.21" y1="250.2" x2="997.63" y2="256.3" stroke="#8e9498" stroke-width="0.6" />
<line x1="991.21" y1="243.2" x2="1005.35" y2="257.3" stroke="#8e9498" stroke-width="0.6" />
<line x1="1000.54" y1="243.2" x2="1012.77" y2="254.4" stroke="#8e9498" stroke-width="0.6" />
<line x1="1014.07" y1="243.8" x2="1021.79" y2="250.5" stroke="#8e9498" stroke-width="0.6" />
<rect x="985.5" y="265.5" width="39.0" height="24.0" stroke="#606060" stroke-width="1" fill="#eaf5fb" />
<line x1="989.61" y1="288.1" x2="1023.7" y2="277.2" stroke="#8e9498" stroke-width="0.6" />
<line x1="986.1" y1="265.9" x2="1023.7" y2="277.2" stroke="#8e9498" stroke-width="0.6" />
<line x1="991.21" y1="276.2" x2="997.63" y2="282.3" stroke="#8e9498" stroke-width="0.6" />
<line x1="991.21" y1="269.2" x2="1005.35" y2="283.3" stroke="#8e9498" stroke-width="0.6" />
<line x1="1000.54" y1="269.2" x2="1012.77" y2="280.4" stroke="#8e9498" stroke-width="0.6" />
<line x1="1014.07" y1="269.8" x2="1021.79" y2="276.5" stroke="#8e9498" stroke-width="0.6" />
<path d="M1027.20,246.50 A9.90,5.2 0 0 1 1047.00,246.50 V277.30 A9.90,5.2 0 0 1 1027.20,277.30 Z" fill="#fff" stroke="#000" stroke-width="1.2"/>
<rect x="1053.5" y="239.5" width="39.0" height="24.0" stroke="#606060" stroke-width="1" fill="#eaf5fb" />
<line x1="1057.51" y1="262.1" x2="1091.6" y2="251.2" stroke="#8e9498" stroke-width="0.6" />
<line x1="1054.0" y1="239.9" x2="1091.6" y2="251.2" stroke="#8e9498" stroke-width="0.6" />
<line x1="1059.11" y1="250.2" x2="1065.53" y2="256.3" stroke="#8e9498" stroke-width="0.6" />
<line x1="1059.11" y1="243.2" x2="1073.25" y2="257.3" stroke="#8e9498" stroke-width="0.6" />
<line x1="1068.44" y1="243.2" x2="1080.67" y2="254.4" stroke="#8e9498" stroke-width="0.6" />
<line x1="1081.97" y1="243.8" x2="1089.69" y2="250.5" stroke="#8e9498" stroke-width="0.6" />
<rect x="1053.5" y="265.5" width="39.0" height="24.0" stroke="#606060" stroke-width="1" fill="#eaf5fb" />
<line x1="1057.51" y1="288.1" x2="1091.6" y2="277.2" stroke="#8e9498" stroke-width="0.6" />
<line x1="1054.0" y1="265.9" x2="1091.6" y2="277.2" stroke="#8e9498" stroke-width="0.6" />
<line x1="1059.11" y1="276.2" x2="1065.53" y2="282.3" stroke="#8e9498" stroke-width="0.6" />
<line x1="1059.11" y1="269.2" x2="1073.25" y2="283.3" stroke="#8e9498" stroke-width="0.6" />
<line x1="1068.44" y1="269.2" x2="1080.67" y2="280.4" stroke="#8e9498" stroke-width="0.6" />
<line x1="1081.97" y1="269.8" x2="1089.69" y2="276.5" stroke="#8e9498" stroke-width="0.6" />
<path d="M1095.10,246.50 A9.90,5.2 0 0 1 1114.90,246.50 V277.30 A9.90,5.2 0 0 1 1095.10,277.30 Z" fill="#fff" stroke="#000" stroke-width="1.2"/>
<rect x="985.5" y="304.5" width="39.0" height="24.0" stroke="#606060" stroke-width="1" fill="#eaf5fb" />
<line x1="989.61" y1="327.6" x2="1023.7" y2="316.7" stroke="#8e9498" stroke-width="0.6" />
<line x1="986.1" y1="305.4" x2="1023.7" y2="316.7" stroke="#8e9498" stroke-width="0.6" />
<line x1="991.21" y1="315.7" x2="997.63" y2="321.8" stroke="#8e9498" stroke-width="0.6" />
<line x1="991.21" y1="308.7" x2="1005.35" y2="322.8" stroke="#8e9498" stroke-width="0.6" />
<line x1="1000.54" y1="308.7" x2="1012.77" y2="319.9" stroke="#8e9498" stroke-width="0.6" />
<line x1="1014.07" y1="309.3" x2="1021.79" y2="316.0" stroke="#8e9498" stroke-width="0.6" />
<rect x="985.5" y="330.5" width="39.0" height="24.0" stroke="#606060" stroke-width="1" fill="#eaf5fb" />
<line x1="989.61" y1="353.6" x2="1023.7" y2="342.7" stroke="#8e9498" stroke-width="0.6" />
<line x1="986.1" y1="331.4" x2="1023.7" y2="342.7" stroke="#8e9498" stroke-width="0.6" />
<line x1="991.21" y1="341.7" x2="997.63" y2="347.8" stroke="#8e9498" stroke-width="0.6" />
<line x1="991.21" y1="334.7" x2="1005.35" y2="348.8" stroke="#8e9498" stroke-width="0.6" />
<line x1="1000.54" y1="334.7" x2="1012.77" y2="345.9" stroke="#8e9498" stroke-width="0.6" />
<line x1="1014.07" y1="335.3" x2="1021.79" y2="342.0" stroke="#8e9498" stroke-width="0.6" />
<path d="M1027.20,312.00 A9.90,5.2 0 0 1 1047.00,312.00 V342.80 A9.90,5.2 0 0 1 1027.20,342.80 Z" fill="#fff" stroke="#000" stroke-width="1.2"/>
<rect x="1053.5" y="304.5" width="39.0" height="24.0" stroke="#606060" stroke-width="1" fill="#eaf5fb" />
<line x1="1057.51" y1="327.6" x2="1091.6" y2="316.7" stroke="#8e9498" stroke-width="0.6" />
<line x1="1054.0" y1="305.4" x2="1091.6" y2="316.7" stroke="#8e9498" stroke-width="0.6" />
<line x1="1059.11" y1="315.7" x2="1065.53" y2="321.8" stroke="#8e9498" stroke-width="0.6" />
<line x1="1059.11" y1="308.7" x2="1073.25" y2="322.8" stroke="#8e9498" stroke-width="0.6" />
<line x1="1068.44" y1="308.7" x2="1080.67" y2="319.9" stroke="#8e9498" stroke-width="0.6" />
<line x1="1081.97" y1="309.3" x2="1089.69" y2="316.0" stroke="#8e9498" stroke-width="0.6" />
<rect x="1053.5" y="330.5" width="39.0" height="24.0" stroke="#606060" stroke-width="1" fill="#eaf5fb" />
<line x1="1057.51" y1="353.6" x2="1091.6" y2="342.7" stroke="#8e9498" stroke-width="0.6" />
<line x1="1054.0" y1="331.4" x2="1091.6" y2="342.7" stroke="#8e9498" stroke-width="0.6" />
<line x1="1059.11" y1="341.7" x2="1065.53" y2="347.8" stroke="#8e9498" stroke-width="0.6" />
<line x1="1059.11" y1="334.7" x2="1073.25" y2="348.8" stroke="#8e9498" stroke-width="0.6" />
<line x1="1068.44" y1="334.7" x2="1080.67" y2="345.9" stroke="#8e9498" stroke-width="0.6" />
<line x1="1081.97" y1="335.3" x2="1089.69" y2="342.0" stroke="#8e9498" stroke-width="0.6" />
<path d="M1095.10,312.00 A9.90,5.2 0 0 1 1114.90,312.00 V342.80 A9.90,5.2 0 0 1 1095.10,342.80 Z" fill="#fff" stroke="#000" stroke-width="1.2"/>
<rect x="695.5" y="650.5" width="39.0" height="24.0" stroke="#606060" stroke-width="1" fill="#eaf5fb" />
<line x1="699.41" y1="673.7" x2="733.5" y2="662.8" stroke="#8e9498" stroke-width="0.6" />
<line x1="695.9" y1="651.5" x2="733.5" y2="662.8" stroke="#8e9498" stroke-width="0.6" />
<line x1="701.01" y1="661.8" x2="707.43" y2="667.9" stroke="#8e9498" stroke-width="0.6" />
<line x1="701.01" y1="654.8" x2="715.15" y2="668.9" stroke="#8e9498" stroke-width="0.6" />
<line x1="710.34" y1="654.8" x2="722.57" y2="666.0" stroke="#8e9498" stroke-width="0.6" />
<line x1="723.87" y1="655.4" x2="731.59" y2="662.1" stroke="#8e9498" stroke-width="0.6" />
<rect x="695.5" y="676.5" width="39.0" height="24.0" stroke="#606060" stroke-width="1" fill="#eaf5fb" />
<line x1="699.41" y1="699.7" x2="733.5" y2="688.8" stroke="#8e9498" stroke-width="0.6" />
<line x1="695.9" y1="677.5" x2="733.5" y2="688.8" stroke="#8e9498" stroke-width="0.6" />
<line x1="701.01" y1="687.8" x2="707.43" y2="693.9" stroke="#8e9498" stroke-width="0.6" />
<line x1="701.01" y1="680.8" x2="715.15" y2="694.9" stroke="#8e9498" stroke-width="0.6" />
<line x1="710.34" y1="680.8" x2="722.57" y2="692.0" stroke="#8e9498" stroke-width="0.6" />
<line x1="723.87" y1="681.4" x2="731.59" y2="688.1" stroke="#8e9498" stroke-width="0.6" />
<path d="M737.00,658.10 A9.90,5.2 0 0 1 756.80,658.10 V688.90 A9.90,5.2 0 0 1 737.00,688.90 Z" fill="#fff" stroke="#000" stroke-width="1.2"/>
<rect x="762.5" y="650.5" width="39.0" height="24.0" stroke="#606060" stroke-width="1" fill="#eaf5fb" />
<line x1="766.61" y1="673.7" x2="800.7" y2="662.8" stroke="#8e9498" stroke-width="0.6" />
<line x1="763.1" y1="651.5" x2="800.7" y2="662.8" stroke="#8e9498" stroke-width="0.6" />
<line x1="768.21" y1="661.8" x2="774.63" y2="667.9" stroke="#8e9498" stroke-width="0.6" />
<line x1="768.21" y1="654.8" x2="782.35" y2="668.9" stroke="#8e9498" stroke-width="0.6" />
<line x1="777.54" y1="654.8" x2="789.77" y2="666.0" stroke="#8e9498" stroke-width="0.6" />
<line x1="791.07" y1="655.4" x2="798.79" y2="662.1" stroke="#8e9498" stroke-width="0.6" />
<rect x="762.5" y="676.5" width="39.0" height="24.0" stroke="#606060" stroke-width="1" fill="#eaf5fb" />
<line x1="766.61" y1="699.7" x2="800.7" y2="688.8" stroke="#8e9498" stroke-width="0.6" />
<line x1="763.1" y1="677.5" x2="800.7" y2="688.8" stroke="#8e9498" stroke-width="0.6" />
<line x1="768.21" y1="687.8" x2="774.63" y2="693.9" stroke="#8e9498" stroke-width="0.6" />
<line x1="768.21" y1="680.8" x2="782.35" y2="694.9" stroke="#8e9498" stroke-width="0.6" />
<line x1="777.54" y1="680.8" x2="789.77" y2="692.0" stroke="#8e9498" stroke-width="0.6" />
<line x1="791.07" y1="681.4" x2="798.79" y2="688.1" stroke="#8e9498" stroke-width="0.6" />
<path d="M804.20,658.10 A9.90,5.2 0 0 1 824.00,658.10 V688.90 A9.90,5.2 0 0 1 804.20,688.90 Z" fill="#fff" stroke="#000" stroke-width="1.2"/>
<rect x="621.5" y="716.5" width="39.0" height="24.0" stroke="#606060" stroke-width="1" fill="#eaf5fb" />
<line x1="625.31" y1="738.9" x2="659.4" y2="728.0" stroke="#8e9498" stroke-width="0.6" />
<line x1="621.8" y1="716.7" x2="659.4" y2="728.0" stroke="#8e9498" stroke-width="0.6" />
<line x1="626.91" y1="727.0" x2="633.33" y2="733.1" stroke="#8e9498" stroke-width="0.6" />
<line x1="626.91" y1="720.0" x2="641.05" y2="734.1" stroke="#8e9498" stroke-width="0.6" />
<line x1="636.24" y1="720.0" x2="648.47" y2="731.2" stroke="#8e9498" stroke-width="0.6" />
<line x1="649.77" y1="720.6" x2="657.49" y2="727.3" stroke="#8e9498" stroke-width="0.6" />
<rect x="621.5" y="742.5" width="39.0" height="24.0" stroke="#606060" stroke-width="1" fill="#eaf5fb" />
<line x1="625.31" y1="764.9" x2="659.4" y2="754.0" stroke="#8e9498" stroke-width="0.6" />
<line x1="621.8" y1="742.7" x2="659.4" y2="754.0" stroke="#8e9498" stroke-width="0.6" />
<line x1="626.91" y1="753.0" x2="633.33" y2="759.1" stroke="#8e9498" stroke-width="0.6" />
<line x1="626.91" y1="746.0" x2="641.05" y2="760.1" stroke="#8e9498" stroke-width="0.6" />
<line x1="636.24" y1="746.0" x2="648.47" y2="757.2" stroke="#8e9498" stroke-width="0.6" />
<line x1="649.77" y1="746.6" x2="657.49" y2="753.3" stroke="#8e9498" stroke-width="0.6" />
<path d="M662.90,723.30 A9.90,5.2 0 0 1 682.70,723.30 V754.10 A9.90,5.2 0 0 1 662.90,754.10 Z" fill="#fff" stroke="#000" stroke-width="1.2"/>
<rect x="695.5" y="716.5" width="39.0" height="24.0" stroke="#606060" stroke-width="1" fill="#eaf5fb" />
<line x1="699.41" y1="738.9" x2="733.5" y2="728.0" stroke="#8e9498" stroke-width="0.6" />
<line x1="695.9" y1="716.7" x2="733.5" y2="728.0" stroke="#8e9498" stroke-width="0.6" />
<line x1="701.01" y1="727.0" x2="707.43" y2="733.1" stroke="#8e9498" stroke-width="0.6" />
<line x1="701.01" y1="720.0" x2="715.15" y2="734.1" stroke="#8e9498" stroke-width="0.6" />
<line x1="710.34" y1="720.0" x2="722.57" y2="731.2" stroke="#8e9498" stroke-width="0.6" />
<line x1="723.87" y1="720.6" x2="731.59" y2="727.3" stroke="#8e9498" stroke-width="0.6" />
<rect x="695.5" y="742.5" width="39.0" height="24.0" stroke="#606060" stroke-width="1" fill="#eaf5fb" />
<line x1="699.41" y1="764.9" x2="733.5" y2="754.0" stroke="#8e9498" stroke-width="0.6" />
<line x1="695.9" y1="742.7" x2="733.5" y2="754.0" stroke="#8e9498" stroke-width="0.6" />
<line x1="701.01" y1="753.0" x2="707.43" y2="759.1" stroke="#8e9498" stroke-width="0.6" />
<line x1="701.01" y1="746.0" x2="715.15" y2="760.1" stroke="#8e9498" stroke-width="0.6" />
<line x1="710.34" y1="746.0" x2="722.57" y2="757.2" stroke="#8e9498" stroke-width="0.6" />
<line x1="723.87" y1="746.6" x2="731.59" y2="753.3" stroke="#8e9498" stroke-width="0.6" />
<path d="M737.00,723.30 A9.90,5.2 0 0 1 756.80,723.30 V754.10 A9.90,5.2 0 0 1 737.00,754.10 Z" fill="#fff" stroke="#000" stroke-width="1.2"/>
<rect x="762.5" y="716.5" width="39.0" height="24.0" stroke="#606060" stroke-width="1" fill="#eaf5fb" />
<line x1="766.61" y1="738.9" x2="800.7" y2="728.0" stroke="#8e9498" stroke-width="0.6" />
<line x1="763.1" y1="716.7" x2="800.7" y2="728.0" stroke="#8e9498" stroke-width="0.6" />
<line x1="768.21" y1="727.0" x2="774.63" y2="733.1" stroke="#8e9498" stroke-width="0.6" />
<line x1="768.21" y1="720.0" x2="782.35" y2="734.1" stroke="#8e9498" stroke-width="0.6" />
<line x1="777.54" y1="720.0" x2="789.77" y2="731.2" stroke="#8e9498" stroke-width="0.6" />
<line x1="791.07" y1="720.6" x2="798.79" y2="727.3" stroke="#8e9498" stroke-width="0.6" />
<rect x="762.5" y="742.5" width="39.0" height="24.0" stroke="#606060" stroke-width="1" fill="#eaf5fb" />
<line x1="766.61" y1="764.9" x2="800.7" y2="754.0" stroke="#8e9498" stroke-width="0.6" />
<line x1="763.1" y1="742.7" x2="800.7" y2="754.0" stroke="#8e9498" stroke-width="0.6" />
<line x1="768.21" y1="753.0" x2="774.63" y2="759.1" stroke="#8e9498" stroke-width="0.6" />
<line x1="768.21" y1="746.0" x2="782.35" y2="760.1" stroke="#8e9498" stroke-width="0.6" />
<line x1="777.54" y1="746.0" x2="789.77" y2="757.2" stroke="#8e9498" stroke-width="0.6" />
<line x1="791.07" y1="746.6" x2="798.79" y2="753.3" stroke="#8e9498" stroke-width="0.6" />
<path d="M804.20,723.30 A9.90,5.2 0 0 1 824.00,723.30 V754.10 A9.90,5.2 0 0 1 804.20,754.10 Z" fill="#fff" stroke="#000" stroke-width="1.2"/>
<rect x="841.5" y="644.5" width="39.0" height="24.0" stroke="#606060" stroke-width="1" fill="#eaf5fb" />
<line x1="845.51" y1="667.3" x2="879.6" y2="656.4" stroke="#8e9498" stroke-width="0.6" />
<line x1="842.0" y1="645.1" x2="879.6" y2="656.4" stroke="#8e9498" stroke-width="0.6" />
<line x1="847.11" y1="655.4" x2="853.53" y2="661.5" stroke="#8e9498" stroke-width="0.6" />
<line x1="847.11" y1="648.4" x2="861.25" y2="662.5" stroke="#8e9498" stroke-width="0.6" />
<line x1="856.44" y1="648.4" x2="868.67" y2="659.6" stroke="#8e9498" stroke-width="0.6" />
<line x1="869.97" y1="649.0" x2="877.69" y2="655.7" stroke="#8e9498" stroke-width="0.6" />
<rect x="841.5" y="670.5" width="39.0" height="24.0" stroke="#606060" stroke-width="1" fill="#eaf5fb" />
<line x1="845.51" y1="693.3" x2="879.6" y2="682.4" stroke="#8e9498" stroke-width="0.6" />
<line x1="842.0" y1="671.1" x2="879.6" y2="682.4" stroke="#8e9498" stroke-width="0.6" />
<line x1="847.11" y1="681.4" x2="853.53" y2="687.5" stroke="#8e9498" stroke-width="0.6" />
<line x1="847.11" y1="674.4" x2="861.25" y2="688.5" stroke="#8e9498" stroke-width="0.6" />
<line x1="856.44" y1="674.4" x2="868.67" y2="685.6" stroke="#8e9498" stroke-width="0.6" />
<line x1="869.97" y1="675.0" x2="877.69" y2="681.7" stroke="#8e9498" stroke-width="0.6" />
<path d="M883.10,651.70 A9.90,5.2 0 0 1 902.90,651.70 V682.50 A9.90,5.2 0 0 1 883.10,682.50 Z" fill="#fff" stroke="#000" stroke-width="1.2"/>
<rect x="909.5" y="644.5" width="39.0" height="24.0" stroke="#606060" stroke-width="1" fill="#eaf5fb" />
<line x1="913.61" y1="667.3" x2="947.7" y2="656.4" stroke="#8e9498" stroke-width="0.6" />
<line x1="910.1" y1="645.1" x2="947.7" y2="656.4" stroke="#8e9498" stroke-width="0.6" />
<line x1="915.21" y1="655.4" x2="921.63" y2="661.5" stroke="#8e9498" stroke-width="0.6" />
<line x1="915.21" y1="648.4" x2="929.35" y2="662.5" stroke="#8e9498" stroke-width="0.6" />
<line x1="924.54" y1="648.4" x2="936.77" y2="659.6" stroke="#8e9498" stroke-width="0.6" />
<line x1="938.07" y1="649.0" x2="945.79" y2="655.7" stroke="#8e9498" stroke-width="0.6" />
<rect x="909.5" y="670.5" width="39.0" height="24.0" stroke="#606060" stroke-width="1" fill="#eaf5fb" />
<line x1="913.61" y1="693.3" x2="947.7" y2="682.4" stroke="#8e9498" stroke-width="0.6" />
<line x1="910.1" y1="671.1" x2="947.7" y2="682.4" stroke="#8e9498" stroke-width="0.6" />
<line x1="915.21" y1="681.4" x2="921.63" y2="687.5" stroke="#8e9498" stroke-width="0.6" />
<line x1="915.21" y1="674.4" x2="929.35" y2="688.5" stroke="#8e9498" stroke-width="0.6" />
<line x1="924.54" y1="674.4" x2="936.77" y2="685.6" stroke="#8e9498" stroke-width="0.6" />
<line x1="938.07" y1="675.0" x2="945.79" y2="681.7" stroke="#8e9498" stroke-width="0.6" />
<path d="M951.20,651.70 A9.90,5.2 0 0 1 971.00,651.70 V682.50 A9.90,5.2 0 0 1 951.20,682.50 Z" fill="#fff" stroke="#000" stroke-width="1.2"/>
<rect x="841.5" y="710.5" width="39.0" height="24.0" stroke="#606060" stroke-width="1" fill="#eaf5fb" />
<line x1="845.51" y1="733.1" x2="879.6" y2="722.2" stroke="#8e9498" stroke-width="0.6" />
<line x1="842.0" y1="710.9" x2="879.6" y2="722.2" stroke="#8e9498" stroke-width="0.6" />
<line x1="847.11" y1="721.2" x2="853.53" y2="727.3" stroke="#8e9498" stroke-width="0.6" />
<line x1="847.11" y1="714.2" x2="861.25" y2="728.3" stroke="#8e9498" stroke-width="0.6" />
<line x1="856.44" y1="714.2" x2="868.67" y2="725.4" stroke="#8e9498" stroke-width="0.6" />
<line x1="869.97" y1="714.8" x2="877.69" y2="721.5" stroke="#8e9498" stroke-width="0.6" />
<rect x="841.5" y="736.5" width="39.0" height="24.0" stroke="#606060" stroke-width="1" fill="#eaf5fb" />
<line x1="845.51" y1="759.1" x2="879.6" y2="748.2" stroke="#8e9498" stroke-width="0.6" />
<line x1="842.0" y1="736.9" x2="879.6" y2="748.2" stroke="#8e9498" stroke-width="0.6" />
<line x1="847.11" y1="747.2" x2="853.53" y2="753.3" stroke="#8e9498" stroke-width="0.6" />
<line x1="847.11" y1="740.2" x2="861.25" y2="754.3" stroke="#8e9498" stroke-width="0.6" />
<line x1="856.44" y1="740.2" x2="868.67" y2="751.4" stroke="#8e9498" stroke-width="0.6" />
<line x1="869.97" y1="740.8" x2="877.69" y2="747.5" stroke="#8e9498" stroke-width="0.6" />
<path d="M883.10,717.50 A9.90,5.2 0 0 1 902.90,717.50 V748.30 A9.90,5.2 0 0 1 883.10,748.30 Z" fill="#fff" stroke="#000" stroke-width="1.2"/>
<rect x="909.5" y="710.5" width="39.0" height="24.0" stroke="#606060" stroke-width="1" fill="#eaf5fb" />
<line x1="913.61" y1="733.1" x2="947.7" y2="722.2" stroke="#8e9498" stroke-width="0.6" />
<line x1="910.1" y1="710.9" x2="947.7" y2="722.2" stroke="#8e9498" stroke-width="0.6" />
<line x1="915.21" y1="721.2" x2="921.63" y2="727.3" stroke="#8e9498" stroke-width="0.6" />
<line x1="915.21" y1="714.2" x2="929.35" y2="728.3" stroke="#8e9498" stroke-width="0.6" />
<line x1="924.54" y1="714.2" x2="936.77" y2="725.4" stroke="#8e9498" stroke-width="0.6" />
<line x1="938.07" y1="714.8" x2="945.79" y2="721.5" stroke="#8e9498" stroke-width="0.6" />
<rect x="909.5" y="736.5" width="39.0" height="24.0" stroke="#606060" stroke-width="1" fill="#eaf5fb" />
<line x1="913.61" y1="759.1" x2="947.7" y2="748.2" stroke="#8e9498" stroke-width="0.6" />
<line x1="910.1" y1="736.9" x2="947.7" y2="748.2" stroke="#8e9498" stroke-width="0.6" />
<line x1="915.21" y1="747.2" x2="921.63" y2="753.3" stroke="#8e9498" stroke-width="0.6" />
<line x1="915.21" y1="740.2" x2="929.35" y2="754.3" stroke="#8e9498" stroke-width="0.6" />
<line x1="924.54" y1="740.2" x2="936.77" y2="751.4" stroke="#8e9498" stroke-width="0.6" />
<line x1="938.07" y1="740.8" x2="945.79" y2="747.5" stroke="#8e9498" stroke-width="0.6" />
<path d="M951.20,717.50 A9.90,5.2 0 0 1 971.00,717.50 V748.30 A9.90,5.2 0 0 1 951.20,748.30 Z" fill="#fff" stroke="#000" stroke-width="1.2"/>
<rect x="989.5" y="636.5" width="39.0" height="24.0" stroke="#606060" stroke-width="1" fill="#eaf5fb" />
<line x1="993.41" y1="659.3" x2="1027.5" y2="648.4" stroke="#8e9498" stroke-width="0.6" />
<line x1="989.9" y1="637.1" x2="1027.5" y2="648.4" stroke="#8e9498" stroke-width="0.6" />
<line x1="995.01" y1="647.4" x2="1001.43" y2="653.5" stroke="#8e9498" stroke-width="0.6" />
<line x1="995.01" y1="640.4" x2="1009.15" y2="654.5" stroke="#8e9498" stroke-width="0.6" />
<line x1="1004.34" y1="640.4" x2="1016.57" y2="651.6" stroke="#8e9498" stroke-width="0.6" />
<line x1="1017.87" y1="641.0" x2="1025.59" y2="647.7" stroke="#8e9498" stroke-width="0.6" />
<rect x="989.5" y="662.5" width="39.0" height="24.0" stroke="#606060" stroke-width="1" fill="#eaf5fb" />
<line x1="993.41" y1="685.3" x2="1027.5" y2="674.4" stroke="#8e9498" stroke-width="0.6" />
<line x1="989.9" y1="663.1" x2="1027.5" y2="674.4" stroke="#8e9498" stroke-width="0.6" />
<line x1="995.01" y1="673.4" x2="1001.43" y2="679.5" stroke="#8e9498" stroke-width="0.6" />
<line x1="995.01" y1="666.4" x2="1009.15" y2="680.5" stroke="#8e9498" stroke-width="0.6" />
<line x1="1004.34" y1="666.4" x2="1016.57" y2="677.6" stroke="#8e9498" stroke-width="0.6" />
<line x1="1017.87" y1="667.0" x2="1025.59" y2="673.7" stroke="#8e9498" stroke-width="0.6" />
<path d="M1031.00,643.70 A9.90,5.2 0 0 1 1050.80,643.70 V674.50 A9.90,5.2 0 0 1 1031.00,674.50 Z" fill="#fff" stroke="#000" stroke-width="1.2"/>
<rect x="1057.5" y="636.5" width="39.0" height="24.0" stroke="#606060" stroke-width="1" fill="#eaf5fb" />
<line x1="1061.51" y1="659.3" x2="1095.6" y2="648.4" stroke="#8e9498" stroke-width="0.6" />
<line x1="1058.0" y1="637.1" x2="1095.6" y2="648.4" stroke="#8e9498" stroke-width="0.6" />
<line x1="1063.11" y1="647.4" x2="1069.53" y2="653.5" stroke="#8e9498" stroke-width="0.6" />
<line x1="1063.11" y1="640.4" x2="1077.25" y2="654.5" stroke="#8e9498" stroke-width="0.6" />
<line x1="1072.44" y1="640.4" x2="1084.67" y2="651.6" stroke="#8e9498" stroke-width="0.6" />
<line x1="1085.97" y1="641.0" x2="1093.69" y2="647.7" stroke="#8e9498" stroke-width="0.6" />
<rect x="1057.5" y="662.5" width="39.0" height="24.0" stroke="#606060" stroke-width="1" fill="#eaf5fb" />
<line x1="1061.51" y1="685.3" x2="1095.6" y2="674.4" stroke="#8e9498" stroke-width="0.6" />
<line x1="1058.0" y1="663.1" x2="1095.6" y2="674.4" stroke="#8e9498" stroke-width="0.6" />
<line x1="1063.11" y1="673.4" x2="1069.53" y2="679.5" stroke="#8e9498" stroke-width="0.6" />
<line x1="1063.11" y1="666.4" x2="1077.25" y2="680.5" stroke="#8e9498" stroke-width="0.6" />
<line x1="1072.44" y1="666.4" x2="1084.67" y2="677.6" stroke="#8e9498" stroke-width="0.6" />
<line x1="1085.97" y1="667.0" x2="1093.69" y2="673.7" stroke="#8e9498" stroke-width="0.6" />
<path d="M1099.10,643.70 A9.90,5.2 0 0 1 1118.90,643.70 V674.50 A9.90,5.2 0 0 1 1099.10,674.50 Z" fill="#fff" stroke="#000" stroke-width="1.2"/>
<rect x="989.5" y="702.5" width="39.0" height="24.0" stroke="#606060" stroke-width="1" fill="#eaf5fb" />
<line x1="993.41" y1="725.1" x2="1027.5" y2="714.2" stroke="#8e9498" stroke-width="0.6" />
<line x1="989.9" y1="702.9" x2="1027.5" y2="714.2" stroke="#8e9498" stroke-width="0.6" />
<line x1="995.01" y1="713.2" x2="1001.43" y2="719.3" stroke="#8e9498" stroke-width="0.6" />
<line x1="995.01" y1="706.2" x2="1009.15" y2="720.3" stroke="#8e9498" stroke-width="0.6" />
<line x1="1004.34" y1="706.2" x2="1016.57" y2="717.4" stroke="#8e9498" stroke-width="0.6" />
<line x1="1017.87" y1="706.8" x2="1025.59" y2="713.5" stroke="#8e9498" stroke-width="0.6" />
<rect x="989.5" y="728.5" width="39.0" height="24.0" stroke="#606060" stroke-width="1" fill="#eaf5fb" />
<line x1="993.41" y1="751.1" x2="1027.5" y2="740.2" stroke="#8e9498" stroke-width="0.6" />
<line x1="989.9" y1="728.9" x2="1027.5" y2="740.2" stroke="#8e9498" stroke-width="0.6" />
<line x1="995.01" y1="739.2" x2="1001.43" y2="745.3" stroke="#8e9498" stroke-width="0.6" />
<line x1="995.01" y1="732.2" x2="1009.15" y2="746.3" stroke="#8e9498" stroke-width="0.6" />
<line x1="1004.34" y1="732.2" x2="1016.57" y2="743.4" stroke="#8e9498" stroke-width="0.6" />
<line x1="1017.87" y1="732.8" x2="1025.59" y2="739.5" stroke="#8e9498" stroke-width="0.6" />
<path d="M1031.00,709.50 A9.90,5.2 0 0 1 1050.80,709.50 V740.30 A9.90,5.2 0 0 1 1031.00,740.30 Z" fill="#fff" stroke="#000" stroke-width="1.2"/>
<rect x="1057.5" y="702.5" width="39.0" height="24.0" stroke="#606060" stroke-width="1" fill="#eaf5fb" />
<line x1="1061.51" y1="725.1" x2="1095.6" y2="714.2" stroke="#8e9498" stroke-width="0.6" />
<line x1="1058.0" y1="702.9" x2="1095.6" y2="714.2" stroke="#8e9498" stroke-width="0.6" />
<line x1="1063.11" y1="713.2" x2="1069.53" y2="719.3" stroke="#8e9498" stroke-width="0.6" />
<line x1="1063.11" y1="706.2" x2="1077.25" y2="720.3" stroke="#8e9498" stroke-width="0.6" />
<line x1="1072.44" y1="706.2" x2="1084.67" y2="717.4" stroke="#8e9498" stroke-width="0.6" />
<line x1="1085.97" y1="706.8" x2="1093.69" y2="713.5" stroke="#8e9498" stroke-width="0.6" />
<rect x="1057.5" y="728.5" width="39.0" height="24.0" stroke="#606060" stroke-width="1" fill="#eaf5fb" />
<line x1="1061.51" y1="751.1" x2="1095.6" y2="740.2" stroke="#8e9498" stroke-width="0.6" />
<line x1="1058.0" y1="728.9" x2="1095.6" y2="740.2" stroke="#8e9498" stroke-width="0.6" />
<line x1="1063.11" y1="739.2" x2="1069.53" y2="745.3" stroke="#8e9498" stroke-width="0.6" />
<line x1="1063.11" y1="732.2" x2="1077.25" y2="746.3" stroke="#8e9498" stroke-width="0.6" />
<line x1="1072.44" y1="732.2" x2="1084.67" y2="743.4" stroke="#8e9498" stroke-width="0.6" />
<line x1="1085.97" y1="732.8" x2="1093.69" y2="739.5" stroke="#8e9498" stroke-width="0.6" />
<path d="M1099.10,709.50 A9.90,5.2 0 0 1 1118.90,709.50 V740.30 A9.90,5.2 0 0 1 1099.10,740.30 Z" fill="#fff" stroke="#000" stroke-width="1.2"/>
<rect x="989.5" y="769.5" width="39.0" height="24.0" stroke="#606060" stroke-width="1" fill="#eaf5fb" />
<line x1="993.31" y1="792.2" x2="1027.4" y2="781.3" stroke="#8e9498" stroke-width="0.6" />
<line x1="989.8" y1="770.0" x2="1027.4" y2="781.3" stroke="#8e9498" stroke-width="0.6" />
<line x1="994.91" y1="780.3" x2="1001.33" y2="786.4" stroke="#8e9498" stroke-width="0.6" />
<line x1="994.91" y1="773.3" x2="1009.05" y2="787.4" stroke="#8e9498" stroke-width="0.6" />
<line x1="1004.24" y1="773.3" x2="1016.47" y2="784.5" stroke="#8e9498" stroke-width="0.6" />
<line x1="1017.77" y1="773.9" x2="1025.49" y2="780.6" stroke="#8e9498" stroke-width="0.6" />
<rect x="989.5" y="795.5" width="39.0" height="24.0" stroke="#606060" stroke-width="1" fill="#eaf5fb" />
<line x1="993.31" y1="818.2" x2="1027.4" y2="807.3" stroke="#8e9498" stroke-width="0.6" />
<line x1="989.8" y1="796.0" x2="1027.4" y2="807.3" stroke="#8e9498" stroke-width="0.6" />
<line x1="994.91" y1="806.3" x2="1001.33" y2="812.4" stroke="#8e9498" stroke-width="0.6" />
<line x1="994.91" y1="799.3" x2="1009.05" y2="813.4" stroke="#8e9498" stroke-width="0.6" />
<line x1="1004.24" y1="799.3" x2="1016.47" y2="810.5" stroke="#8e9498" stroke-width="0.6" />
<line x1="1017.77" y1="799.9" x2="1025.49" y2="806.6" stroke="#8e9498" stroke-width="0.6" />
<path d="M1030.90,776.60 A9.90,5.2 0 0 1 1050.70,776.60 V807.40 A9.90,5.2 0 0 1 1030.90,807.40 Z" fill="#fff" stroke="#000" stroke-width="1.2"/>
<rect x="1057.5" y="769.5" width="39.0" height="24.0" stroke="#606060" stroke-width="1" fill="#eaf5fb" />
<line x1="1061.31" y1="792.2" x2="1095.4" y2="781.3" stroke="#8e9498" stroke-width="0.6" />
<line x1="1057.8" y1="770.0" x2="1095.4" y2="781.3" stroke="#8e9498" stroke-width="0.6" />
<line x1="1062.91" y1="780.3" x2="1069.33" y2="786.4" stroke="#8e9498" stroke-width="0.6" />
<line x1="1062.91" y1="773.3" x2="1077.05" y2="787.4" stroke="#8e9498" stroke-width="0.6" />
<line x1="1072.24" y1="773.3" x2="1084.47" y2="784.5" stroke="#8e9498" stroke-width="0.6" />
<line x1="1085.77" y1="773.9" x2="1093.49" y2="780.6" stroke="#8e9498" stroke-width="0.6" />
<rect x="1057.5" y="795.5" width="39.0" height="24.0" stroke="#606060" stroke-width="1" fill="#eaf5fb" />
<line x1="1061.31" y1="818.2" x2="1095.4" y2="807.3" stroke="#8e9498" stroke-width="0.6" />
<line x1="1057.8" y1="796.0" x2="1095.4" y2="807.3" stroke="#8e9498" stroke-width="0.6" />
<line x1="1062.91" y1="806.3" x2="1069.33" y2="812.4" stroke="#8e9498" stroke-width="0.6" />
<line x1="1062.91" y1="799.3" x2="1077.05" y2="813.4" stroke="#8e9498" stroke-width="0.6" />
<line x1="1072.24" y1="799.3" x2="1084.47" y2="810.5" stroke="#8e9498" stroke-width="0.6" />
<line x1="1085.77" y1="799.9" x2="1093.49" y2="806.6" stroke="#8e9498" stroke-width="0.6" />
<path d="M1098.90,776.60 A9.90,5.2 0 0 1 1118.70,776.60 V807.40 A9.90,5.2 0 0 1 1098.90,807.40 Z" fill="#fff" stroke="#000" stroke-width="1.2"/>
<rect x="989.5" y="834.5" width="39.0" height="24.0" stroke="#606060" stroke-width="1" fill="#eaf5fb" />
<line x1="993.31" y1="857.4" x2="1027.4" y2="846.5" stroke="#8e9498" stroke-width="0.6" />
<line x1="989.8" y1="835.2" x2="1027.4" y2="846.5" stroke="#8e9498" stroke-width="0.6" />
<line x1="994.91" y1="845.5" x2="1001.33" y2="851.6" stroke="#8e9498" stroke-width="0.6" />
<line x1="994.91" y1="838.5" x2="1009.05" y2="852.6" stroke="#8e9498" stroke-width="0.6" />
<line x1="1004.24" y1="838.5" x2="1016.47" y2="849.7" stroke="#8e9498" stroke-width="0.6" />
<line x1="1017.77" y1="839.1" x2="1025.49" y2="845.8" stroke="#8e9498" stroke-width="0.6" />
<rect x="989.5" y="860.5" width="39.0" height="24.0" stroke="#606060" stroke-width="1" fill="#eaf5fb" />
<line x1="993.31" y1="883.4" x2="1027.4" y2="872.5" stroke="#8e9498" stroke-width="0.6" />
<line x1="989.8" y1="861.2" x2="1027.4" y2="872.5" stroke="#8e9498" stroke-width="0.6" />
<line x1="994.91" y1="871.5" x2="1001.33" y2="877.6" stroke="#8e9498" stroke-width="0.6" />
<line x1="994.91" y1="864.5" x2="1009.05" y2="878.6" stroke="#8e9498" stroke-width="0.6" />
<line x1="1004.24" y1="864.5" x2="1016.47" y2="875.7" stroke="#8e9498" stroke-width="0.6" />
<line x1="1017.77" y1="865.1" x2="1025.49" y2="871.8" stroke="#8e9498" stroke-width="0.6" />
<path d="M1030.90,841.80 A9.90,5.2 0 0 1 1050.70,841.80 V872.60 A9.90,5.2 0 0 1 1030.90,872.60 Z" fill="#fff" stroke="#000" stroke-width="1.2"/>
<rect x="1057.5" y="834.5" width="39.0" height="24.0" stroke="#606060" stroke-width="1" fill="#eaf5fb" />
<line x1="1061.31" y1="857.4" x2="1095.4" y2="846.5" stroke="#8e9498" stroke-width="0.6" />
<line x1="1057.8" y1="835.2" x2="1095.4" y2="846.5" stroke="#8e9498" stroke-width="0.6" />
<line x1="1062.91" y1="845.5" x2="1069.33" y2="851.6" stroke="#8e9498" stroke-width="0.6" />
<line x1="1062.91" y1="838.5" x2="1077.05" y2="852.6" stroke="#8e9498" stroke-width="0.6" />
<line x1="1072.24" y1="838.5" x2="1084.47" y2="849.7" stroke="#8e9498" stroke-width="0.6" />
<line x1="1085.77" y1="839.1" x2="1093.49" y2="845.8" stroke="#8e9498" stroke-width="0.6" />
<rect x="1057.5" y="860.5" width="39.0" height="24.0" stroke="#606060" stroke-width="1" fill="#eaf5fb" />
<line x1="1061.31" y1="883.4" x2="1095.4" y2="872.5" stroke="#8e9498" stroke-width="0.6" />
<line x1="1057.8" y1="861.2" x2="1095.4" y2="872.5" stroke="#8e9498" stroke-width="0.6" />
<line x1="1062.91" y1="871.5" x2="1069.33" y2="877.6" stroke="#8e9498" stroke-width="0.6" />
<line x1="1062.91" y1="864.5" x2="1077.05" y2="878.6" stroke="#8e9498" stroke-width="0.6" />
<line x1="1072.24" y1="864.5" x2="1084.47" y2="875.7" stroke="#8e9498" stroke-width="0.6" />
<line x1="1085.77" y1="865.1" x2="1093.49" y2="871.8" stroke="#8e9498" stroke-width="0.6" />
<path d="M1098.90,841.80 A9.90,5.2 0 0 1 1118.70,841.80 V872.60 A9.90,5.2 0 0 1 1098.90,872.60 Z" fill="#fff" stroke="#000" stroke-width="1.2"/>
<rect x="394.5" y="204.5" width="38.0" height="23.0" stroke="#606060" stroke-width="1" fill="#eaf5fb" />
<line x1="398.16" y1="226.62" x2="431.81" y2="215.95" stroke="#8e9498" stroke-width="0.6" />
<line x1="394.69" y1="204.89" x2="431.81" y2="215.95" stroke="#8e9498" stroke-width="0.6" />
<line x1="399.74" y1="214.97" x2="406.08" y2="220.95" stroke="#8e9498" stroke-width="0.6" />
<line x1="399.74" y1="208.12" x2="413.7" y2="221.93" stroke="#8e9498" stroke-width="0.6" />
<line x1="408.95" y1="208.12" x2="421.02" y2="219.09" stroke="#8e9498" stroke-width="0.6" />
<line x1="422.31" y1="208.71" x2="429.93" y2="215.27" stroke="#8e9498" stroke-width="0.6" />
<rect x="394.5" y="230.5" width="38.0" height="24.0" stroke="#606060" stroke-width="1" fill="#eaf5fb" />
<line x1="398.16" y1="252.99" x2="431.81" y2="242.0" stroke="#8e9498" stroke-width="0.6" />
<line x1="394.69" y1="230.6" x2="431.81" y2="242.0" stroke="#8e9498" stroke-width="0.6" />
<line x1="399.74" y1="240.99" x2="406.08" y2="247.14" stroke="#8e9498" stroke-width="0.6" />
<line x1="399.74" y1="233.93" x2="413.7" y2="248.15" stroke="#8e9498" stroke-width="0.6" />
<line x1="408.95" y1="233.93" x2="421.02" y2="245.23" stroke="#8e9498" stroke-width="0.6" />
<line x1="422.31" y1="234.54" x2="429.93" y2="241.29" stroke="#8e9498" stroke-width="0.6" />
<rect x="394.5" y="254.5" width="38.0" height="23.0" stroke="#606060" stroke-width="1" fill="#eaf5fb" />
<line x1="398.16" y1="276.52" x2="431.81" y2="265.85" stroke="#8e9498" stroke-width="0.6" />
<line x1="394.69" y1="254.79" x2="431.81" y2="265.85" stroke="#8e9498" stroke-width="0.6" />
<line x1="399.74" y1="264.87" x2="406.08" y2="270.85" stroke="#8e9498" stroke-width="0.6" />
<line x1="399.74" y1="258.02" x2="413.7" y2="271.82" stroke="#8e9498" stroke-width="0.6" />
<line x1="408.95" y1="258.02" x2="421.02" y2="268.99" stroke="#8e9498" stroke-width="0.6" />
<line x1="422.31" y1="258.61" x2="429.93" y2="265.17" stroke="#8e9498" stroke-width="0.6" />
<rect x="394.5" y="279.5" width="38.0" height="23.0" stroke="#606060" stroke-width="1" fill="#eaf5fb" />
<line x1="398.16" y1="301.72" x2="431.81" y2="291.05" stroke="#8e9498" stroke-width="0.6" />
<line x1="394.69" y1="279.99" x2="431.81" y2="291.05" stroke="#8e9498" stroke-width="0.6" />
<line x1="399.74" y1="290.07" x2="406.08" y2="296.05" stroke="#8e9498" stroke-width="0.6" />
<line x1="399.74" y1="283.22" x2="413.7" y2="297.02" stroke="#8e9498" stroke-width="0.6" />
<line x1="408.95" y1="283.22" x2="421.02" y2="294.19" stroke="#8e9498" stroke-width="0.6" />
<line x1="422.31" y1="283.81" x2="429.93" y2="290.37" stroke="#8e9498" stroke-width="0.6" />
<path d="M435.10,211.30 A9.85,5.2 0 0 1 454.80,211.30 V241.70 A9.85,5.2 0 0 1 435.10,241.70 Z" fill="#fff" stroke="#000" stroke-width="1.2"/>
<path d="M435.10,260.30 A9.85,5.2 0 0 1 454.80,260.30 V291.20 A9.85,5.2 0 0 1 435.10,291.20 Z" fill="#fff" stroke="#000" stroke-width="1.2"/>
<text x="0" y="0" transform="translate(441.2,218.5) rotate(90)" font-size="9" fill="#000" stroke="#000" stroke-width="0.35" textLength="61" lengthAdjust="spacingAndGlyphs">ΗΛΙΑΚΑ ΠΛΑΙΣΙΑ</text>
<polyline points="685.5,289.5 685.5,352.5 770.5,352.5 770.5,357.5 948.5,357.5 948.5,293.5" stroke="#8a8a8a" stroke-width="1" fill="none" stroke-dasharray="5,3"/>
<polyline points="953.5,240.5 1137.5,240.5" stroke="#8a8a8a" stroke-width="1" fill="none" stroke-dasharray="5,3"/>
<polyline points="584.5,346.5 584.5,448.5 644.5,448.5 644.5,708.5 584.5,708.5 584.5,810.5" stroke="#8a8a8a" stroke-width="1" fill="none" stroke-dasharray="5,3"/>
<polyline points="1151.5,388.5 1078.5,388.5 1078.5,540.5" stroke="#8a8a8a" stroke-width="1" fill="none" stroke-dasharray="5,3"/>
<polyline points="1078.5,617.5 1079.5,767.5 1151.5,767.5" stroke="#8a8a8a" stroke-width="1" fill="none" stroke-dasharray="5,3"/>
<polyline points="695.5,886.5 695.5,817.5 770.5,817.5 770.5,779.5 859.5,779.5 859.5,862.5 947.5,864.5 947.5,881.5" stroke="#8a8a8a" stroke-width="1" fill="none" stroke-dasharray="5,3"/>
<rect x="815.5" y="543.5" width="89.0" height="13.0" stroke="#777" stroke-width="1" fill="none" stroke-dasharray="5,3"/>
<rect x="865.5" y="599.5" width="39.0" height="13.0" stroke="#777" stroke-width="1" fill="none" stroke-dasharray="5,3"/>
<polyline points="12.5,202.5 12.5,189.5 493.5,189.5 493.5,202.5" stroke="#ff0000" stroke-width="1.3" fill="none" />
<polyline points="425.5,120.5 437.5,120.5 437.5,356.5 425.5,356.5" stroke="#ff0000" stroke-width="1.3" fill="none" />
<polyline points="427.5,553.5 427.5,567.5 1173.5,567.5 1173.5,553.5" stroke="#ff0000" stroke-width="1.5" fill="none" />
<text x="0" y="7.40" transform="translate(13.5,214.5) rotate(90) scale(0.9,1)" font-size="21.5" fill="#ff0000" stroke="#ff0000" stroke-width="0.4" text-anchor="middle">C</text>
<text x="0" y="7.40" transform="translate(494,210.7) rotate(90) scale(0.9,1)" font-size="21.5" fill="#ff0000" stroke="#ff0000" stroke-width="0.4" text-anchor="middle">C</text>
<text x="0" y="7.40" transform="translate(415,124.9) rotate(180) scale(0.9,1)" font-size="21.5" fill="#ff0000" stroke="#ff0000" stroke-width="0.4" text-anchor="middle">D</text>
<text x="0" y="7.40" transform="translate(415.8,357) rotate(180) scale(0.9,1)" font-size="21.5" fill="#ff0000" stroke="#ff0000" stroke-width="0.4" text-anchor="middle">D</text>
<text x="0" y="7.40" transform="translate(815.5,132.8) rotate(90) scale(0.9,1)" font-size="21.5" fill="#ff0000" stroke="#ff0000" stroke-width="0.4" text-anchor="middle">A</text>
<text x="0" y="7.40" transform="translate(427.9,546.6) rotate(0) scale(0.9,1)" font-size="21.5" fill="#ff0000" stroke="#ff0000" stroke-width="0.4" text-anchor="middle">B</text>
<text x="0" y="7.40" transform="translate(1173.7,542.3) rotate(0) scale(0.9,1)" font-size="21.5" fill="#ff0000" stroke="#ff0000" stroke-width="0.4" text-anchor="middle">B</text>
<line x1="764" y1="168.5" x2="776" y2="168.5" stroke="#b0b0b0" stroke-width="0.8" />
<line x1="774.5" y1="172" x2="774.5" y2="179" stroke="#c8c8c8" stroke-width="0.8" />
<line x1="764.5" y1="165.5" x2="764.5" y2="169" stroke="#b0b0b0" stroke-width="0.6" />
<line x1="774.5" y1="165.5" x2="774.5" y2="169" stroke="#b0b0b0" stroke-width="0.6" />
<text x="767.6" y="167" font-size="6.2" fill="#777">40</text>
<text x="0" y="0" transform="translate(130.3,109.4) scale(0.97,1)" font-size="24.6" fill="#000">BLOCK B</text>
<text x="1075.5" y="990.5" font-size="24" fill="#000">BLOCK A</text>
</svg>
</body></html>
